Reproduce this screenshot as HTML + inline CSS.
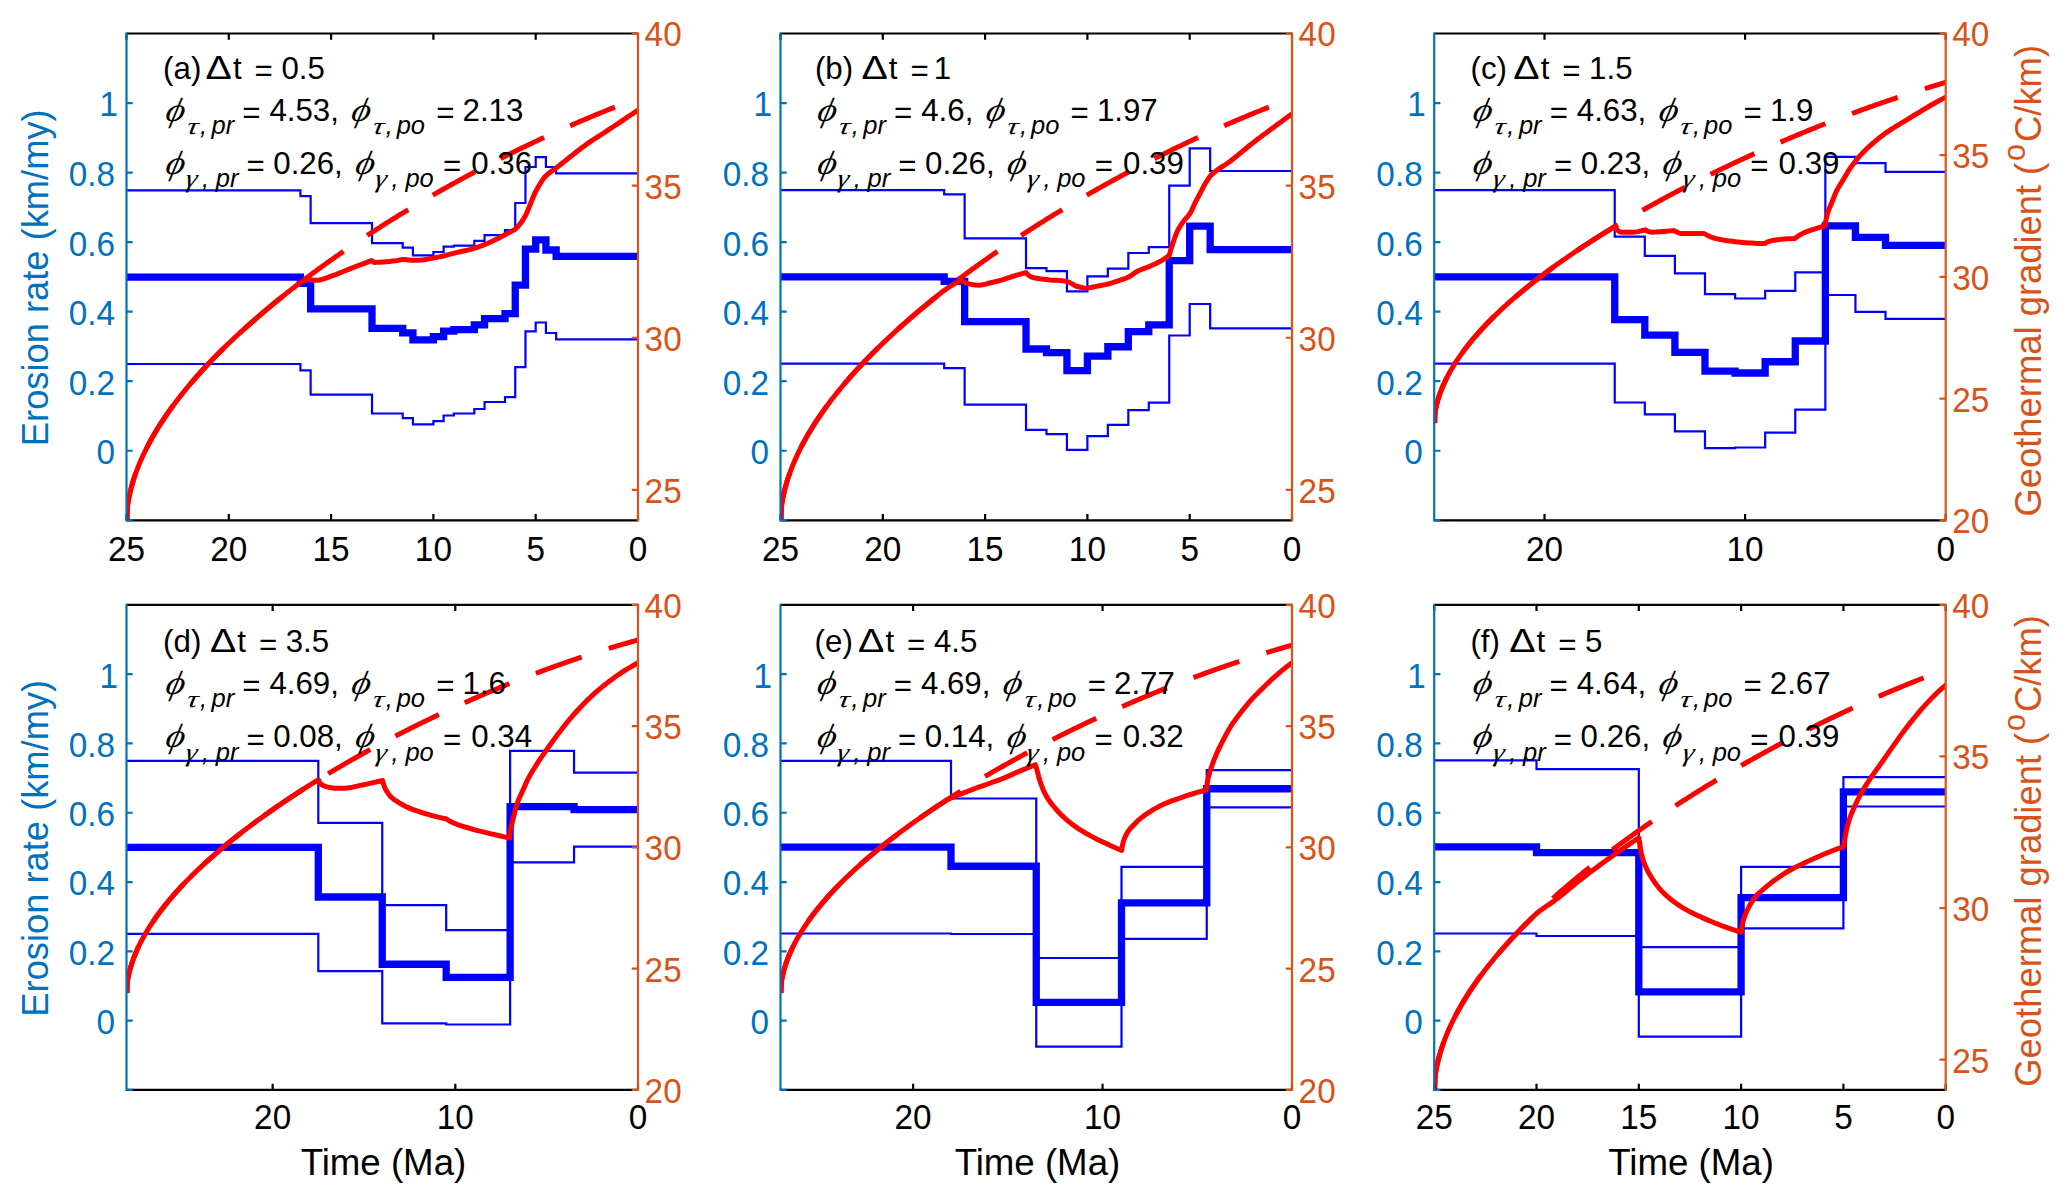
<!DOCTYPE html>
<html><head><meta charset="utf-8"><title>Erosion rate and geothermal gradient</title>
<style>html,body{margin:0;padding:0;background:#fff}svg{display:block}</style></head>
<body>
<svg width="2067" height="1204" viewBox="0 0 2067 1204" font-family="Liberation Sans, sans-serif">
<g id="panel-a">
<clipPath id="clip-a"><rect x="126.5" y="33.5" width="511.5" height="486.8"/></clipPath>
<g clip-path="url(#clip-a)">
<path d="M126.5 190.4 L300.41 190.4 L300.41 196.2 L310.64 196.2 L310.64 223.1 L372.02 223.1 L372.02 243.2 L402.71 243.2 L402.71 247.7 L412.94 247.7 L412.94 255.3 L433.4 255.3 L433.4 252 L443.63 252 L443.63 246.7 L453.86 246.7 L453.86 245.7 L474.32 245.7 L474.32 240.9 L484.55 240.9 L484.55 235.2 L505.01 235.2 L505.01 230.1 L515.24 230.1 L515.24 203 L525.47 203 L525.47 167 L535.7 167 L535.7 157.2 L545.93 157.2 L545.93 167 L556.16 167 L556.16 173.3 L638 173.3" fill="none" stroke="#0000ff" stroke-width="2.2" stroke-linejoin="miter"/>
<path d="M126.5 364 L300.41 364 L300.41 370.3 L310.64 370.3 L310.64 394.7 L372.02 394.7 L372.02 413.5 L402.71 413.5 L402.71 418.1 L412.94 418.1 L412.94 424.3 L433.4 424.3 L433.4 421.1 L443.63 421.1 L443.63 415.5 L453.86 415.5 L453.86 413.5 L474.32 413.5 L474.32 409 L484.55 409 L484.55 402 L505.01 402 L505.01 397.2 L515.24 397.2 L515.24 367.2 L525.47 367.2 L525.47 331.3 L535.7 331.3 L535.7 322.5 L545.93 322.5 L545.93 333 L556.16 333 L556.16 339.3 L638 339.3" fill="none" stroke="#0000ff" stroke-width="2.2" stroke-linejoin="miter"/>
<path d="M126.5 277.2 L300.41 277.2 L300.41 283.25 L310.64 283.25 L310.64 308.9 L372.02 308.9 L372.02 328.35 L402.71 328.35 L402.71 332.9 L412.94 332.9 L412.94 339.8 L433.4 339.8 L433.4 336.55 L443.63 336.55 L443.63 331.1 L453.86 331.1 L453.86 329.6 L474.32 329.6 L474.32 324.95 L484.55 324.95 L484.55 318.6 L505.01 318.6 L505.01 313.65 L515.24 313.65 L515.24 285.1 L525.47 285.1 L525.47 249.15 L535.7 249.15 L535.7 239.85 L545.93 239.85 L545.93 250 L556.16 250 L556.16 256.3 L638 256.3" fill="none" stroke="#0000ff" stroke-width="7.3" stroke-linejoin="miter"/>
<path d="M126.5 520.3 L127.78 504.33 L129.06 496.98 L130.35 491.18 L131.63 486.21 L132.91 481.77 L134.19 477.72 L135.47 473.96 L136.76 470.43 L138.04 467.1 L139.32 463.93 L140.6 460.9 L141.88 457.99 L143.17 455.19 L144.45 452.48 L145.73 449.86 L147.01 447.32 L148.29 444.84 L149.58 442.43 L150.86 440.08 L152.14 437.79 L153.42 435.54 L154.7 433.35 L155.98 431.19 L157.27 429.08 L158.55 427.01 L159.83 424.97 L161.11 422.97 L162.39 421 L163.68 419.07 L164.96 417.16 L166.24 415.28 L167.52 413.43 L168.8 411.6 L170.09 409.8 L171.37 408.02 L172.65 406.26 L173.93 404.53 L175.21 402.81 L176.5 401.12 L177.78 399.44 L179.06 397.79 L180.34 396.15 L181.62 394.53 L182.91 392.92 L184.19 391.33 L185.47 389.76 L186.75 388.2 L188.03 386.66 L189.32 385.13 L190.6 383.61 L191.88 382.11 L193.16 380.62 L194.44 379.14 L195.73 377.68 L197.01 376.22 L198.29 374.78 L199.57 373.35 L200.85 371.93 L202.14 370.52 L203.42 369.13 L204.7 367.74 L205.98 366.36 L207.26 364.99 L208.55 363.63 L209.83 362.28 L211.11 360.94 L212.39 359.61 L213.67 358.29 L214.95 356.97 L216.24 355.67 L217.52 354.37 L218.8 353.08 L220.08 351.8 L221.36 350.52 L222.65 349.25 L223.93 347.99 L225.21 346.74 L226.49 345.5 L227.77 344.26 L229.06 343.03 L230.34 341.8 L231.62 340.58 L232.9 339.37 L234.18 338.16 L235.47 336.96 L236.75 335.77 L238.03 334.58 L239.31 333.4 L240.59 332.22 L241.88 331.05 L243.16 329.89 L244.44 328.73 L245.72 327.58 L247 326.43 L248.29 325.29 L249.57 324.15 L250.85 323.02 L252.13 321.89 L253.41 320.77 L254.7 319.65 L255.98 318.54 L257.26 317.43 L258.54 316.33 L259.82 315.23 L261.11 314.13 L262.39 313.04 L263.67 311.96 L264.95 310.88 L266.23 309.8 L267.52 308.73 L268.8 307.66 L270.08 306.6 L271.36 305.54 L272.64 304.48 L273.92 303.43 L275.21 302.38 L276.49 301.34 L277.77 300.3 L279.05 299.27 L280.33 298.23 L281.62 297.21 L282.9 296.18 L284.18 295.16 L285.46 294.14 L286.74 293.13 L288.03 292.12 L289.31 291.11 L290.59 290.11 L291.87 289.11 L293.15 288.12 L294.44 287.12 L295.72 286.13 L297 285.15 L298.28 284.17 L299.56 283.19 L300.85 282.21 L302.13 281.24 L303.41 280.27 L304.69 279.3 L305.97 278.34 L307.26 277.38 L308.54 276.42 L309.82 275.46 L311.1 274.51 L312.38 273.56 L313.67 272.62 L314.95 271.67 L316.23 270.73 L317.51 269.8 L318.79 268.86 L320.08 267.93 L321.36 267 L322.64 266.08 L323.92 265.15 L325.2 264.23 L326.48 263.32 L327.77 262.4 L329.05 261.49 L330.33 260.58 L331.61 259.67 L332.89 258.77 L334.18 257.87 L335.46 256.97 L336.74 256.07 L338.02 255.18 L339.3 254.28 L340.59 253.39 L341.87 252.51 L343.15 251.62 L344.43 250.74 L345.71 249.86 L347 248.99 L348.28 248.11 L349.56 247.24 L350.84 246.37 L352.12 245.5 L353.41 244.64 L354.69 243.77 L355.97 242.91 L357.25 242.06 L358.53 241.2 L359.82 240.35 L361.1 239.49 L362.38 238.65 L363.66 237.8 L364.94 236.95 L366.23 236.11 L367.51 235.27 L368.79 234.43 L370.07 233.6 L371.35 232.76 L372.64 231.93 L373.92 231.1 L375.2 230.28 L376.48 229.45 L377.76 228.63 L379.05 227.81 L380.33 226.99 L381.61 226.17 L382.89 225.36 L384.17 224.55 L385.45 223.73 L386.74 222.93 L388.02 222.12 L389.3 221.32 L390.58 220.51 L391.86 219.71 L393.15 218.91 L394.43 218.12 L395.71 217.32 L396.99 216.53 L398.27 215.74 L399.56 214.95 L400.84 214.17 L402.12 213.38 L403.4 212.6 L404.68 211.82 L405.97 211.04 L407.25 210.26 L408.53 209.49 L409.81 208.72 L411.09 207.94 L412.38 207.18 L413.66 206.41 L414.94 205.64 L416.22 204.88 L417.5 204.12 L418.79 203.36 L420.07 202.6 L421.35 201.84 L422.63 201.09 L423.91 200.34 L425.2 199.59 L426.48 198.84 L427.76 198.09 L429.04 197.35 L430.32 196.6 L431.61 195.86 L432.89 195.12 L434.17 194.38 L435.45 193.65 L436.73 192.91 L438.02 192.18 L439.3 191.45 L440.58 190.72 L441.86 189.99 L443.14 189.27 L444.42 188.55 L445.71 187.82 L446.99 187.1 L448.27 186.38 L449.55 185.67 L450.83 184.95 L452.12 184.24 L453.4 183.53 L454.68 182.82 L455.96 182.11 L457.24 181.41 L458.53 180.7 L459.81 180 L461.09 179.3 L462.37 178.6 L463.65 177.9 L464.94 177.2 L466.22 176.51 L467.5 175.82 L468.78 175.13 L470.06 174.44 L471.35 173.75 L472.63 173.07 L473.91 172.38 L475.19 171.7 L476.47 171.02 L477.76 170.34 L479.04 169.66 L480.32 168.99 L481.6 168.31 L482.88 167.64 L484.17 166.97 L485.45 166.3 L486.73 165.63 L488.01 164.97 L489.29 164.3 L490.58 163.64 L491.86 162.98 L493.14 162.32 L494.42 161.67 L495.7 161.01 L496.98 160.36 L498.27 159.7 L499.55 159.05 L500.83 158.4 L502.11 157.76 L503.39 157.11 L504.68 156.47 L505.96 155.82 L507.24 155.18 L508.52 154.55 L509.8 153.91 L511.09 153.27 L512.37 152.64 L513.65 152 L514.93 151.37 L516.21 150.74 L517.5 150.12 L518.78 149.49 L520.06 148.87 L521.34 148.24 L522.62 147.62 L523.91 147 L525.19 146.38 L526.47 145.77 L527.75 145.15 L529.03 144.54 L530.32 143.93 L531.6 143.32 L532.88 142.71 L534.16 142.1 L535.44 141.5 L536.73 140.9 L538.01 140.29 L539.29 139.69 L540.57 139.1 L541.85 138.5 L543.14 137.9 L544.42 137.31 L545.7 136.72 L546.98 136.13 L548.26 135.54 L549.55 134.95 L550.83 134.37 L552.11 133.78 L553.39 133.2 L554.67 132.62 L555.95 132.04 L557.24 131.46 L558.52 130.89 L559.8 130.31 L561.08 129.74 L562.36 129.17 L563.65 128.6 L564.93 128.03 L566.21 127.46 L567.49 126.9 L568.77 126.34 L570.06 125.78 L571.34 125.22 L572.62 124.66 L573.9 124.1 L575.18 123.55 L576.47 122.99 L577.75 122.44 L579.03 121.89 L580.31 121.34 L581.59 120.8 L582.88 120.25 L584.16 119.71 L585.44 119.16 L586.72 118.62 L588 118.09 L589.29 117.55 L590.57 117.01 L591.85 116.48 L593.13 115.95 L594.41 115.42 L595.7 114.89 L596.98 114.36 L598.26 113.83 L599.54 113.31 L600.82 112.79 L602.11 112.26 L603.39 111.75 L604.67 111.23 L605.95 110.71 L607.23 110.2 L608.52 109.68 L609.8 109.17 L611.08 108.66 L612.36 108.16 L613.64 107.65 L614.92 107.14 L616.21 106.64 L617.49 106.14 L618.77 105.64 L620.05 105.14 L621.33 104.64 L622.62 104.15 L623.9 103.66 L625.18 103.16 L626.46 102.67 L627.74 102.19 L629.03 101.7 L630.31 101.21 L631.59 100.73 L632.87 100.25 L634.15 99.77 L635.44 99.29 L636.72 98.81 L638 98.34" fill="none" stroke="#ff0000" stroke-width="5" stroke-dasharray="48.5 28.5" stroke-linecap="butt"/>
<path d="M127.3 520.3 L127.31 517.25 L127.33 514.21 L127.36 511.18 L127.41 508.16 L127.57 505.15 L128.1 502.15 L128.64 499.16 L129.23 496.18 L129.87 493.22 L130.57 490.26 L131.33 487.33 L132.13 484.4 L132.99 481.49 L133.9 478.6 L134.86 475.72 L135.87 472.86 L136.92 470.01 L138.01 467.18 L139.14 464.37 L140.32 461.57 L141.53 458.79 L142.78 456.02 L144.07 453.27 L145.39 450.54 L146.75 447.83 L148.14 445.13 L149.56 442.46 L151.02 439.79 L152.5 437.15 L154.02 434.52 L155.56 431.9 L157.13 429.31 L158.72 426.73 L160.35 424.16 L161.99 421.62 L163.67 419.08 L165.36 416.57 L167.08 414.07 L168.82 411.58 L170.58 409.11 L172.36 406.66 L174.16 404.22 L175.99 401.79 L177.83 399.38 L179.69 396.98 L181.57 394.6 L183.46 392.23 L185.37 389.88 L187.3 387.53 L189.25 385.21 L191.21 382.89 L193.19 380.59 L195.18 378.3 L197.18 376.02 L199.2 373.76 L201.24 371.51 L203.28 369.27 L205.34 367.04 L207.42 364.83 L209.5 362.62 L211.6 360.43 L213.71 358.25 L215.83 356.08 L217.96 353.92 L220.1 351.77 L222.26 349.64 L224.42 347.51 L226.6 345.4 L228.78 343.29 L230.97 341.19 L233.18 339.11 L235.39 337.03 L237.61 334.97 L239.84 332.91 L242.08 330.87 L244.33 328.83 L246.59 326.8 L248.85 324.78 L251.13 322.77 L253.41 320.77 L255.7 318.78 L257.99 316.8 L260.3 314.82 L262.61 312.86 L264.93 310.9 L267.25 308.95 L269.58 307.01 L271.92 305.08 L274.27 303.15 L276.62 301.24 L278.98 299.33 L281.34 297.43 L283.71 295.53 L286.09 293.65 L288.47 291.77 L290.86 289.9 L293.26 288.04 L295.66 286.18 L298.03 284.25 L300.48 282.5 L303.15 281.19 L305.98 280.08 L309 279.3 L312.14 279.96 L315.25 280.28 L318.32 280.17 L321.38 279.61 L324.41 278.7 L327.43 277.6 L330.43 276.43 L333.42 275.33 L336.38 274.29 L339.32 273.17 L342.24 271.99 L345.15 270.78 L348.06 269.58 L350.99 268.4 L353.92 267.26 L356.86 266.13 L359.8 265.01 L362.75 263.9 L365.7 262.79 L368.65 261.69 L371.6 260.6 L374.24 262.38 L377.11 262.36 L380.12 262.22 L383.24 262.01 L386.42 261.73 L389.62 261.41 L392.82 261.05 L395.97 260.69 L399.05 260.15 L402.11 259.55 L405.2 259.6 L408.31 259.94 L411.43 260.25 L414.54 260.29 L417.67 260.2 L420.78 260.06 L423.87 259.81 L426.94 259.29 L430.01 258.62 L433.07 257.99 L436.14 257.43 L439.21 256.87 L442.26 256.24 L445.29 255.51 L448.3 254.7 L451.31 253.86 L454.32 253.07 L457.36 252.35 L460.41 251.69 L463.47 251.04 L466.52 250.37 L469.55 249.65 L472.55 248.84 L475.52 247.93 L478.48 246.91 L481.41 245.83 L484.31 244.69 L487.19 243.51 L490.04 242.23 L492.86 240.9 L495.67 239.54 L498.47 238.17 L501.25 236.76 L504.02 235.32 L506.78 233.86 L509.53 232.39 L512.27 230.91 L515 229.4 L517.21 227.22 L519.26 224.93 L521.13 222.5 L522.88 219.96 L524.5 217.32 L525.95 214.62 L527.22 211.82 L528.39 208.97 L529.55 206.1 L530.72 203.24 L531.85 200.37 L532.99 197.5 L534.19 194.67 L535.5 191.89 L536.94 189.17 L538.48 186.49 L540.08 183.87 L541.73 181.22 L543.46 178.64 L545.38 176.31 L547.58 174.25 L550.02 172.36 L552.57 170.56 L555.12 168.75 L557.56 166.86 L559.98 164.95 L562.39 163.03 L564.8 161.11 L567.21 159.2 L569.63 157.29 L572.05 155.39 L574.47 153.47 L576.89 151.56 L579.31 149.66 L581.76 147.79 L584.23 145.95 L586.73 144.16 L589.25 142.41 L591.81 140.69 L594.38 138.99 L596.96 137.32 L599.56 135.65 L602.16 133.99 L604.75 132.32 L607.34 130.65 L609.91 128.96 L612.48 127.25 L615.04 125.54 L617.6 123.82 L620.15 122.1 L622.71 120.38 L625.26 118.66 L627.81 116.93 L630.36 115.2 L632.91 113.47 L635.46 111.74 L638 110" fill="none" stroke="#ff0000" stroke-width="5" stroke-linejoin="round" stroke-linecap="butt"/>
</g>
<path d="M126.5 33.5 H638 M126.5 520.3 H638" stroke="#000" stroke-width="2.2" fill="none"/>
<path d="M126.5 520.3 v-6.2 M126.5 33.5 v6.2 M228.8 520.3 v-6.2 M228.8 33.5 v6.2 M331.1 520.3 v-6.2 M331.1 33.5 v6.2 M433.4 520.3 v-6.2 M433.4 33.5 v6.2 M535.7 520.3 v-6.2 M535.7 33.5 v6.2 M638 520.3 v-6.2 M638 33.5 v6.2 " stroke="#000" stroke-width="2.2" fill="none"/>
<path d="M126.5 32.4 V521.4 M126.5 520.3 h6.2 M126.5 450.76 h6.2 M126.5 381.21 h6.2 M126.5 311.67 h6.2 M126.5 242.13 h6.2 M126.5 172.59 h6.2 M126.5 103.04 h6.2 " stroke="#0072BD" stroke-width="2.2" fill="none"/>
<text x="0" y="0" font-size="33.33" fill="#0072BD" text-anchor="end" transform="translate(115 464.21) scale(1 1.055)">0</text>
<text x="0" y="0" font-size="33.33" fill="#0072BD" text-anchor="end" transform="translate(115 394.66) scale(1 1.055)">0.2</text>
<text x="0" y="0" font-size="33.33" fill="#0072BD" text-anchor="end" transform="translate(115 325.12) scale(1 1.055)">0.4</text>
<text x="0" y="0" font-size="33.33" fill="#0072BD" text-anchor="end" transform="translate(115 255.58) scale(1 1.055)">0.6</text>
<text x="0" y="0" font-size="33.33" fill="#0072BD" text-anchor="end" transform="translate(115 186.04) scale(1 1.055)">0.8</text>
<text x="0" y="0" font-size="33.33" fill="#0072BD" text-anchor="end" transform="translate(118 116.49) scale(1 1.055)">1</text>
<path d="M638 32.4 V521.4 M638 489.87 h-6.2 M638 337.75 h-6.2 M638 185.62 h-6.2 M638 33.5 h-6.2 " stroke="#D95319" stroke-width="2.2" fill="none"/>
<text x="0" y="0" font-size="33.33" fill="#D95319" text-anchor="start" transform="translate(644.6 502.82) scale(1 1.055)">25</text>
<text x="0" y="0" font-size="33.33" fill="#D95319" text-anchor="start" transform="translate(644.6 350.7) scale(1 1.055)">30</text>
<text x="0" y="0" font-size="33.33" fill="#D95319" text-anchor="start" transform="translate(644.6 198.58) scale(1 1.055)">35</text>
<text x="0" y="0" font-size="33.33" fill="#D95319" text-anchor="start" transform="translate(644.6 46.45) scale(1 1.055)">40</text>
<text x="0" y="0" font-size="33.33" fill="#000" text-anchor="middle" transform="translate(126.5 561.05) scale(1 1.055)">25</text>
<text x="0" y="0" font-size="33.33" fill="#000" text-anchor="middle" transform="translate(228.8 561.05) scale(1 1.055)">20</text>
<text x="0" y="0" font-size="33.33" fill="#000" text-anchor="middle" transform="translate(331.1 561.05) scale(1 1.055)">15</text>
<text x="0" y="0" font-size="33.33" fill="#000" text-anchor="middle" transform="translate(433.4 561.05) scale(1 1.055)">10</text>
<text x="0" y="0" font-size="33.33" fill="#000" text-anchor="middle" transform="translate(535.7 561.05) scale(1 1.055)">5</text>
<text x="0" y="0" font-size="33.33" fill="#000" text-anchor="middle" transform="translate(638 561.05) scale(1 1.055)">0</text>
<text x="48.4" y="277.75" font-size="36.3" fill="#0072BD" text-anchor="middle" transform="rotate(-90 48.4 277.75)">Erosion rate (km/my)</text>
<text x="163.1" y="78.7" font-size="31.25" fill="#000" text-anchor="start" >(a)</text>
<text x="0" y="0" font-size="31.25" transform="translate(205.6 78.7) scale(1.26 1.09)">Δ</text>
<text x="233" y="78.7" font-size="31.25" fill="#000" text-anchor="start" >t</text>
<text x="254.6" y="81.2" font-size="31.25" fill="#000" text-anchor="start" >=</text>
<text x="281.4" y="78.7" font-size="31.25" fill="#000" text-anchor="start" >0.5</text>
<text x="0" y="0" font-size="32.5" font-style="italic" font-family="Liberation Serif, serif" transform="translate(164.2 120.5) skewX(-13) scale(1.12 1.03)">ϕ</text>
<text x="0" y="0" font-size="24" font-style="italic" font-family="Liberation Serif, serif" transform="translate(185.9 134.1) skewX(-10) scale(1.3 1)">τ</text>
<text x="199.9" y="134.1" font-size="25.5" fill="#000" text-anchor="start" font-style="italic">,</text>
<text x="211.5" y="134.1" font-size="25.5" fill="#000" text-anchor="start" font-style="italic">pr</text>
<text x="242.3" y="123.1" font-size="31.25" fill="#000" text-anchor="start" >=</text>
<text x="269.4" y="120.5" font-size="31.25" fill="#000" text-anchor="start" >4.53,</text>
<text x="0" y="0" font-size="32.5" font-style="italic" font-family="Liberation Serif, serif" transform="translate(350 120.5) skewX(-13) scale(1.12 1.03)">ϕ</text>
<text x="0" y="0" font-size="24" font-style="italic" font-family="Liberation Serif, serif" transform="translate(371.7 134.1) skewX(-10) scale(1.3 1)">τ</text>
<text x="385.7" y="134.1" font-size="25.5" fill="#000" text-anchor="start" font-style="italic">,</text>
<text x="396.7" y="134.1" font-size="25.5" fill="#000" text-anchor="start" font-style="italic">po</text>
<text x="436.2" y="123.1" font-size="31.25" fill="#000" text-anchor="start" >=</text>
<text x="462.5" y="120.5" font-size="31.25" fill="#000" text-anchor="start" >2.13</text>
<text x="0" y="0" font-size="32.5" font-style="italic" font-family="Liberation Serif, serif" transform="translate(164.2 173.5) skewX(-13) scale(1.12 1.03)">ϕ</text>
<text x="0" y="0" font-size="26" font-style="italic" font-family="Liberation Serif, serif" transform="translate(184.4 187.1) skewX(-10) scale(1.12 1)">γ</text>
<text x="201.9" y="187.1" font-size="25.5" fill="#000" text-anchor="start" font-style="italic">,</text>
<text x="215.8" y="187.1" font-size="25.5" fill="#000" text-anchor="start" font-style="italic">pr</text>
<text x="246.5" y="176.1" font-size="31.25" fill="#000" text-anchor="start" >=</text>
<text x="273.3" y="173.5" font-size="31.25" fill="#000" text-anchor="start" >0.26,</text>
<text x="0" y="0" font-size="32.5" font-style="italic" font-family="Liberation Serif, serif" transform="translate(353.9 173.5) skewX(-13) scale(1.12 1.03)">ϕ</text>
<text x="0" y="0" font-size="26" font-style="italic" font-family="Liberation Serif, serif" transform="translate(374.1 187.1) skewX(-10) scale(1.12 1)">γ</text>
<text x="391.6" y="187.1" font-size="25.5" fill="#000" text-anchor="start" font-style="italic">,</text>
<text x="405.4" y="187.1" font-size="25.5" fill="#000" text-anchor="start" font-style="italic">po</text>
<text x="442.9" y="176.1" font-size="31.25" fill="#000" text-anchor="start" >=</text>
<text x="471.2" y="173.5" font-size="31.25" fill="#000" text-anchor="start" >0.36</text>
</g>
<g id="panel-b">
<clipPath id="clip-b"><rect x="780.5" y="33.5" width="511.5" height="486.8"/></clipPath>
<g clip-path="url(#clip-b)">
<path d="M780.5 190.1 L944.18 190.1 L944.18 194.4 L964.64 194.4 L964.64 238.4 L1026.02 238.4 L1026.02 268.2 L1046.48 268.2 L1046.48 271.2 L1066.94 271.2 L1066.94 291.4 L1087.4 291.4 L1087.4 276.3 L1107.86 276.3 L1107.86 268.7 L1128.32 268.7 L1128.32 253 L1148.78 253 L1148.78 247.2 L1169.24 247.2 L1169.24 185.6 L1189.7 185.6 L1189.7 148.4 L1210.16 148.4 L1210.16 171 L1292 171" fill="none" stroke="#0000ff" stroke-width="2.2" stroke-linejoin="miter"/>
<path d="M780.5 363.6 L944.18 363.6 L944.18 368.2 L964.64 368.2 L964.64 404.7 L1026.02 404.7 L1026.02 429.8 L1046.48 429.8 L1046.48 434.1 L1066.94 434.1 L1066.94 449.9 L1087.4 449.9 L1087.4 436.1 L1107.86 436.1 L1107.86 424.8 L1128.32 424.8 L1128.32 410.2 L1148.78 410.2 L1148.78 402.6 L1169.24 402.6 L1169.24 335.5 L1189.7 335.5 L1189.7 304 L1210.16 304 L1210.16 328.4 L1292 328.4" fill="none" stroke="#0000ff" stroke-width="2.2" stroke-linejoin="miter"/>
<path d="M780.5 276.85 L944.18 276.85 L944.18 281.3 L964.64 281.3 L964.64 321.55 L1026.02 321.55 L1026.02 349 L1046.48 349 L1046.48 352.65 L1066.94 352.65 L1066.94 370.65 L1087.4 370.65 L1087.4 356.2 L1107.86 356.2 L1107.86 346.75 L1128.32 346.75 L1128.32 331.6 L1148.78 331.6 L1148.78 324.9 L1169.24 324.9 L1169.24 260.55 L1189.7 260.55 L1189.7 226.2 L1210.16 226.2 L1210.16 249.7 L1292 249.7" fill="none" stroke="#0000ff" stroke-width="7.3" stroke-linejoin="miter"/>
<path d="M780.5 520.3 L781.78 504.33 L783.06 496.98 L784.35 491.18 L785.63 486.21 L786.91 481.77 L788.19 477.72 L789.47 473.96 L790.76 470.43 L792.04 467.1 L793.32 463.93 L794.6 460.9 L795.88 457.99 L797.17 455.19 L798.45 452.48 L799.73 449.86 L801.01 447.32 L802.29 444.84 L803.58 442.43 L804.86 440.08 L806.14 437.79 L807.42 435.54 L808.7 433.35 L809.98 431.19 L811.27 429.08 L812.55 427.01 L813.83 424.97 L815.11 422.97 L816.39 421 L817.68 419.07 L818.96 417.16 L820.24 415.28 L821.52 413.43 L822.8 411.6 L824.09 409.8 L825.37 408.02 L826.65 406.26 L827.93 404.53 L829.21 402.81 L830.5 401.12 L831.78 399.44 L833.06 397.79 L834.34 396.15 L835.62 394.53 L836.91 392.92 L838.19 391.33 L839.47 389.76 L840.75 388.2 L842.03 386.66 L843.32 385.13 L844.6 383.61 L845.88 382.11 L847.16 380.62 L848.44 379.14 L849.73 377.68 L851.01 376.22 L852.29 374.78 L853.57 373.35 L854.85 371.93 L856.14 370.52 L857.42 369.13 L858.7 367.74 L859.98 366.36 L861.26 364.99 L862.55 363.63 L863.83 362.28 L865.11 360.94 L866.39 359.61 L867.67 358.29 L868.95 356.97 L870.24 355.67 L871.52 354.37 L872.8 353.08 L874.08 351.8 L875.36 350.52 L876.65 349.25 L877.93 347.99 L879.21 346.74 L880.49 345.5 L881.77 344.26 L883.06 343.03 L884.34 341.8 L885.62 340.58 L886.9 339.37 L888.18 338.16 L889.47 336.96 L890.75 335.77 L892.03 334.58 L893.31 333.4 L894.59 332.22 L895.88 331.05 L897.16 329.89 L898.44 328.73 L899.72 327.58 L901 326.43 L902.29 325.29 L903.57 324.15 L904.85 323.02 L906.13 321.89 L907.41 320.77 L908.7 319.65 L909.98 318.54 L911.26 317.43 L912.54 316.33 L913.82 315.23 L915.11 314.13 L916.39 313.04 L917.67 311.96 L918.95 310.88 L920.23 309.8 L921.52 308.73 L922.8 307.66 L924.08 306.6 L925.36 305.54 L926.64 304.48 L927.92 303.43 L929.21 302.38 L930.49 301.34 L931.77 300.3 L933.05 299.27 L934.33 298.23 L935.62 297.21 L936.9 296.18 L938.18 295.16 L939.46 294.14 L940.74 293.13 L942.03 292.12 L943.31 291.11 L944.59 290.11 L945.87 289.11 L947.15 288.12 L948.44 287.12 L949.72 286.13 L951 285.15 L952.28 284.17 L953.56 283.19 L954.85 282.21 L956.13 281.24 L957.41 280.27 L958.69 279.3 L959.97 278.34 L961.26 277.38 L962.54 276.42 L963.82 275.46 L965.1 274.51 L966.38 273.56 L967.67 272.62 L968.95 271.67 L970.23 270.73 L971.51 269.8 L972.79 268.86 L974.08 267.93 L975.36 267 L976.64 266.08 L977.92 265.15 L979.2 264.23 L980.48 263.32 L981.77 262.4 L983.05 261.49 L984.33 260.58 L985.61 259.67 L986.89 258.77 L988.18 257.87 L989.46 256.97 L990.74 256.07 L992.02 255.18 L993.3 254.28 L994.59 253.39 L995.87 252.51 L997.15 251.62 L998.43 250.74 L999.71 249.86 L1001 248.99 L1002.28 248.11 L1003.56 247.24 L1004.84 246.37 L1006.12 245.5 L1007.41 244.64 L1008.69 243.77 L1009.97 242.91 L1011.25 242.06 L1012.53 241.2 L1013.82 240.35 L1015.1 239.49 L1016.38 238.65 L1017.66 237.8 L1018.94 236.95 L1020.23 236.11 L1021.51 235.27 L1022.79 234.43 L1024.07 233.6 L1025.35 232.76 L1026.64 231.93 L1027.92 231.1 L1029.2 230.28 L1030.48 229.45 L1031.76 228.63 L1033.05 227.81 L1034.33 226.99 L1035.61 226.17 L1036.89 225.36 L1038.17 224.55 L1039.45 223.73 L1040.74 222.93 L1042.02 222.12 L1043.3 221.32 L1044.58 220.51 L1045.86 219.71 L1047.15 218.91 L1048.43 218.12 L1049.71 217.32 L1050.99 216.53 L1052.27 215.74 L1053.56 214.95 L1054.84 214.17 L1056.12 213.38 L1057.4 212.6 L1058.68 211.82 L1059.97 211.04 L1061.25 210.26 L1062.53 209.49 L1063.81 208.72 L1065.09 207.94 L1066.38 207.18 L1067.66 206.41 L1068.94 205.64 L1070.22 204.88 L1071.5 204.12 L1072.79 203.36 L1074.07 202.6 L1075.35 201.84 L1076.63 201.09 L1077.91 200.34 L1079.2 199.59 L1080.48 198.84 L1081.76 198.09 L1083.04 197.35 L1084.32 196.6 L1085.61 195.86 L1086.89 195.12 L1088.17 194.38 L1089.45 193.65 L1090.73 192.91 L1092.02 192.18 L1093.3 191.45 L1094.58 190.72 L1095.86 189.99 L1097.14 189.27 L1098.42 188.55 L1099.71 187.82 L1100.99 187.1 L1102.27 186.38 L1103.55 185.67 L1104.83 184.95 L1106.12 184.24 L1107.4 183.53 L1108.68 182.82 L1109.96 182.11 L1111.24 181.41 L1112.53 180.7 L1113.81 180 L1115.09 179.3 L1116.37 178.6 L1117.65 177.9 L1118.94 177.2 L1120.22 176.51 L1121.5 175.82 L1122.78 175.13 L1124.06 174.44 L1125.35 173.75 L1126.63 173.07 L1127.91 172.38 L1129.19 171.7 L1130.47 171.02 L1131.76 170.34 L1133.04 169.66 L1134.32 168.99 L1135.6 168.31 L1136.88 167.64 L1138.17 166.97 L1139.45 166.3 L1140.73 165.63 L1142.01 164.97 L1143.29 164.3 L1144.58 163.64 L1145.86 162.98 L1147.14 162.32 L1148.42 161.67 L1149.7 161.01 L1150.98 160.36 L1152.27 159.7 L1153.55 159.05 L1154.83 158.4 L1156.11 157.76 L1157.39 157.11 L1158.68 156.47 L1159.96 155.82 L1161.24 155.18 L1162.52 154.55 L1163.8 153.91 L1165.09 153.27 L1166.37 152.64 L1167.65 152 L1168.93 151.37 L1170.21 150.74 L1171.5 150.12 L1172.78 149.49 L1174.06 148.87 L1175.34 148.24 L1176.62 147.62 L1177.91 147 L1179.19 146.38 L1180.47 145.77 L1181.75 145.15 L1183.03 144.54 L1184.32 143.93 L1185.6 143.32 L1186.88 142.71 L1188.16 142.1 L1189.44 141.5 L1190.73 140.9 L1192.01 140.29 L1193.29 139.69 L1194.57 139.1 L1195.85 138.5 L1197.14 137.9 L1198.42 137.31 L1199.7 136.72 L1200.98 136.13 L1202.26 135.54 L1203.55 134.95 L1204.83 134.37 L1206.11 133.78 L1207.39 133.2 L1208.67 132.62 L1209.95 132.04 L1211.24 131.46 L1212.52 130.89 L1213.8 130.31 L1215.08 129.74 L1216.36 129.17 L1217.65 128.6 L1218.93 128.03 L1220.21 127.46 L1221.49 126.9 L1222.77 126.34 L1224.06 125.78 L1225.34 125.22 L1226.62 124.66 L1227.9 124.1 L1229.18 123.55 L1230.47 122.99 L1231.75 122.44 L1233.03 121.89 L1234.31 121.34 L1235.59 120.8 L1236.88 120.25 L1238.16 119.71 L1239.44 119.16 L1240.72 118.62 L1242 118.09 L1243.29 117.55 L1244.57 117.01 L1245.85 116.48 L1247.13 115.95 L1248.41 115.42 L1249.7 114.89 L1250.98 114.36 L1252.26 113.83 L1253.54 113.31 L1254.82 112.79 L1256.11 112.26 L1257.39 111.75 L1258.67 111.23 L1259.95 110.71 L1261.23 110.2 L1262.52 109.68 L1263.8 109.17 L1265.08 108.66 L1266.36 108.16 L1267.64 107.65 L1268.92 107.14 L1270.21 106.64 L1271.49 106.14 L1272.77 105.64 L1274.05 105.14 L1275.33 104.64 L1276.62 104.15 L1277.9 103.66 L1279.18 103.16 L1280.46 102.67 L1281.74 102.19 L1283.03 101.7 L1284.31 101.21 L1285.59 100.73 L1286.87 100.25 L1288.15 99.77 L1289.44 99.29 L1290.72 98.81 L1292 98.34" fill="none" stroke="#ff0000" stroke-width="5" stroke-dasharray="48.5 28.5" stroke-linecap="butt"/>
<path d="M781.3 520.3 L781.31 517.24 L781.33 514.19 L781.36 511.15 L781.41 508.12 L781.58 505.1 L782.11 502.1 L782.65 499.1 L783.24 496.12 L783.89 493.14 L784.59 490.18 L785.35 487.24 L786.16 484.31 L787.03 481.39 L787.94 478.49 L788.9 475.6 L789.91 472.73 L790.97 469.88 L792.06 467.04 L793.2 464.22 L794.38 461.42 L795.6 458.63 L796.86 455.86 L798.15 453.1 L799.48 450.37 L800.84 447.65 L802.24 444.94 L803.67 442.26 L805.13 439.59 L806.62 436.94 L808.14 434.3 L809.69 431.68 L811.27 429.08 L812.87 426.5 L814.5 423.93 L816.15 421.37 L817.83 418.84 L819.53 416.32 L821.26 413.81 L823 411.32 L824.77 408.84 L826.56 406.38 L828.37 403.94 L830.2 401.51 L832.05 399.09 L833.92 396.69 L835.8 394.3 L837.71 391.93 L839.63 389.57 L841.56 387.22 L843.52 384.89 L845.48 382.57 L847.47 380.26 L849.47 377.97 L851.48 375.69 L853.51 373.42 L855.55 371.17 L857.6 368.92 L859.67 366.69 L861.75 364.47 L863.84 362.26 L865.95 360.07 L868.07 357.88 L870.2 355.71 L872.33 353.55 L874.49 351.4 L876.65 349.25 L878.82 347.12 L881 345 L883.19 342.89 L885.39 340.8 L887.61 338.71 L889.83 336.63 L892.06 334.56 L894.3 332.5 L896.54 330.45 L898.8 328.41 L901.06 326.38 L903.34 324.35 L905.62 322.34 L907.91 320.34 L910.2 318.34 L912.51 316.36 L914.82 314.38 L917.14 312.41 L919.46 310.45 L921.8 308.49 L924.14 306.55 L926.48 304.61 L928.84 302.69 L931.2 300.77 L933.56 298.86 L935.94 296.95 L938.31 295.06 L940.7 293.16 L943.07 291.26 L945.53 289.48 L948.03 287.77 L950.57 286.11 L953.15 284.5 L955.78 282.95 L958.46 281.48 L961.2 280.1 L963.97 281.92 L966.85 283.34 L969.85 284.14 L973 284.71 L976.23 285.09 L979.43 285.19 L982.58 284.81 L985.73 284.08 L988.87 283.27 L991.99 282.55 L995.11 281.79 L998.21 280.98 L1001.3 280.13 L1004.36 279.2 L1007.4 278.18 L1010.44 277.15 L1013.49 276.16 L1016.55 275.23 L1019.63 274.33 L1022.71 273.45 L1025.8 272.6 L1028.22 274.99 L1030.83 276.79 L1033.68 277.68 L1036.78 278.32 L1040.03 278.81 L1043.33 279.21 L1046.58 279.59 L1049.8 279.91 L1053.05 280.15 L1056.32 280.36 L1059.56 280.58 L1062.75 280.86 L1065.86 281.25 L1068.84 282.05 L1071.68 283.66 L1074.51 285.41 L1077.47 286.55 L1080.56 287.3 L1083.74 287.88 L1087 288.2 L1090.13 287.58 L1093.26 286.95 L1096.38 286.33 L1099.51 285.7 L1102.65 285.1 L1105.78 284.47 L1108.88 283.76 L1111.95 282.91 L1115.01 281.98 L1118.04 280.99 L1121.08 279.98 L1124.12 278.93 L1127.08 277.75 L1129.88 276.34 L1132.52 274.52 L1135.12 272.61 L1137.86 271.02 L1140.76 269.75 L1143.75 268.62 L1146.76 267.52 L1149.73 266.33 L1152.66 265.05 L1155.58 263.73 L1158.44 262.33 L1161.22 260.81 L1163.94 259.16 L1166.6 257.38 L1169.2 255.5 L1170.04 252.48 L1170.93 249.48 L1171.86 246.49 L1172.83 243.52 L1173.82 240.54 L1174.83 237.56 L1175.92 234.61 L1177.11 231.74 L1178.5 228.96 L1180.1 226.26 L1181.85 223.64 L1183.67 221.1 L1185.72 218.7 L1187.82 216.34 L1189.72 213.89 L1191.26 211.22 L1192.58 208.38 L1193.84 205.48 L1195.18 202.64 L1196.61 199.86 L1198.08 197.09 L1199.55 194.33 L1201 191.55 L1202.42 188.76 L1203.88 185.98 L1205.43 183.28 L1207.1 180.64 L1208.86 178.04 L1210.7 175.5 L1213.03 173.46 L1215.42 171.49 L1217.86 169.6 L1220.39 167.84 L1223 166.16 L1225.61 164.49 L1228.15 162.75 L1230.63 160.91 L1233.08 159.03 L1235.5 157.11 L1237.9 155.16 L1240.29 153.18 L1242.67 151.2 L1245.05 149.22 L1247.44 147.25 L1249.84 145.3 L1252.26 143.37 L1254.71 141.48 L1257.16 139.6 L1259.62 137.73 L1262.09 135.87 L1264.57 134.02 L1267.05 132.17 L1269.53 130.32 L1272.02 128.48 L1274.51 126.65 L1277 124.81 L1279.49 122.98 L1281.98 121.15 L1284.48 119.33 L1286.98 117.52 L1289.49 115.71 L1292 113.9" fill="none" stroke="#ff0000" stroke-width="5" stroke-linejoin="round" stroke-linecap="butt"/>
</g>
<path d="M780.5 33.5 H1292 M780.5 520.3 H1292" stroke="#000" stroke-width="2.2" fill="none"/>
<path d="M780.5 520.3 v-6.2 M780.5 33.5 v6.2 M882.8 520.3 v-6.2 M882.8 33.5 v6.2 M985.1 520.3 v-6.2 M985.1 33.5 v6.2 M1087.4 520.3 v-6.2 M1087.4 33.5 v6.2 M1189.7 520.3 v-6.2 M1189.7 33.5 v6.2 M1292 520.3 v-6.2 M1292 33.5 v6.2 " stroke="#000" stroke-width="2.2" fill="none"/>
<path d="M780.5 32.4 V521.4 M780.5 520.3 h6.2 M780.5 450.76 h6.2 M780.5 381.21 h6.2 M780.5 311.67 h6.2 M780.5 242.13 h6.2 M780.5 172.59 h6.2 M780.5 103.04 h6.2 " stroke="#0072BD" stroke-width="2.2" fill="none"/>
<text x="0" y="0" font-size="33.33" fill="#0072BD" text-anchor="end" transform="translate(769 464.21) scale(1 1.055)">0</text>
<text x="0" y="0" font-size="33.33" fill="#0072BD" text-anchor="end" transform="translate(769 394.66) scale(1 1.055)">0.2</text>
<text x="0" y="0" font-size="33.33" fill="#0072BD" text-anchor="end" transform="translate(769 325.12) scale(1 1.055)">0.4</text>
<text x="0" y="0" font-size="33.33" fill="#0072BD" text-anchor="end" transform="translate(769 255.58) scale(1 1.055)">0.6</text>
<text x="0" y="0" font-size="33.33" fill="#0072BD" text-anchor="end" transform="translate(769 186.04) scale(1 1.055)">0.8</text>
<text x="0" y="0" font-size="33.33" fill="#0072BD" text-anchor="end" transform="translate(772 116.49) scale(1 1.055)">1</text>
<path d="M1292 32.4 V521.4 M1292 489.87 h-6.2 M1292 337.75 h-6.2 M1292 185.62 h-6.2 M1292 33.5 h-6.2 " stroke="#D95319" stroke-width="2.2" fill="none"/>
<text x="0" y="0" font-size="33.33" fill="#D95319" text-anchor="start" transform="translate(1298.6 502.82) scale(1 1.055)">25</text>
<text x="0" y="0" font-size="33.33" fill="#D95319" text-anchor="start" transform="translate(1298.6 350.7) scale(1 1.055)">30</text>
<text x="0" y="0" font-size="33.33" fill="#D95319" text-anchor="start" transform="translate(1298.6 198.58) scale(1 1.055)">35</text>
<text x="0" y="0" font-size="33.33" fill="#D95319" text-anchor="start" transform="translate(1298.6 46.45) scale(1 1.055)">40</text>
<text x="0" y="0" font-size="33.33" fill="#000" text-anchor="middle" transform="translate(780.5 561.05) scale(1 1.055)">25</text>
<text x="0" y="0" font-size="33.33" fill="#000" text-anchor="middle" transform="translate(882.8 561.05) scale(1 1.055)">20</text>
<text x="0" y="0" font-size="33.33" fill="#000" text-anchor="middle" transform="translate(985.1 561.05) scale(1 1.055)">15</text>
<text x="0" y="0" font-size="33.33" fill="#000" text-anchor="middle" transform="translate(1087.4 561.05) scale(1 1.055)">10</text>
<text x="0" y="0" font-size="33.33" fill="#000" text-anchor="middle" transform="translate(1189.7 561.05) scale(1 1.055)">5</text>
<text x="0" y="0" font-size="33.33" fill="#000" text-anchor="middle" transform="translate(1292 561.05) scale(1 1.055)">0</text>
<text x="814.9" y="78.7" font-size="31.25" fill="#000" text-anchor="start" >(b)</text>
<text x="0" y="0" font-size="31.25" transform="translate(861.4 78.7) scale(1.26 1.09)">Δ</text>
<text x="888.8" y="78.7" font-size="31.25" fill="#000" text-anchor="start" >t</text>
<text x="910.4" y="81.2" font-size="31.25" fill="#000" text-anchor="start" >=</text>
<text x="933.8" y="78.7" font-size="31.25" fill="#000" text-anchor="start" >1</text>
<text x="0" y="0" font-size="32.5" font-style="italic" font-family="Liberation Serif, serif" transform="translate(816 120.5) skewX(-13) scale(1.12 1.03)">ϕ</text>
<text x="0" y="0" font-size="24" font-style="italic" font-family="Liberation Serif, serif" transform="translate(837.7 134.1) skewX(-10) scale(1.3 1)">τ</text>
<text x="851.7" y="134.1" font-size="25.5" fill="#000" text-anchor="start" font-style="italic">,</text>
<text x="863.3" y="134.1" font-size="25.5" fill="#000" text-anchor="start" font-style="italic">pr</text>
<text x="894.1" y="123.1" font-size="31.25" fill="#000" text-anchor="start" >=</text>
<text x="921.2" y="120.5" font-size="31.25" fill="#000" text-anchor="start" >4.6,</text>
<text x="0" y="0" font-size="32.5" font-style="italic" font-family="Liberation Serif, serif" transform="translate(984.42 120.5) skewX(-13) scale(1.12 1.03)">ϕ</text>
<text x="0" y="0" font-size="24" font-style="italic" font-family="Liberation Serif, serif" transform="translate(1006.12 134.1) skewX(-10) scale(1.3 1)">τ</text>
<text x="1020.12" y="134.1" font-size="25.5" fill="#000" text-anchor="start" font-style="italic">,</text>
<text x="1031.12" y="134.1" font-size="25.5" fill="#000" text-anchor="start" font-style="italic">po</text>
<text x="1070.62" y="123.1" font-size="31.25" fill="#000" text-anchor="start" >=</text>
<text x="1096.92" y="120.5" font-size="31.25" fill="#000" text-anchor="start" >1.97</text>
<text x="0" y="0" font-size="32.5" font-style="italic" font-family="Liberation Serif, serif" transform="translate(816 173.5) skewX(-13) scale(1.12 1.03)">ϕ</text>
<text x="0" y="0" font-size="26" font-style="italic" font-family="Liberation Serif, serif" transform="translate(836.2 187.1) skewX(-10) scale(1.12 1)">γ</text>
<text x="853.7" y="187.1" font-size="25.5" fill="#000" text-anchor="start" font-style="italic">,</text>
<text x="867.6" y="187.1" font-size="25.5" fill="#000" text-anchor="start" font-style="italic">pr</text>
<text x="898.3" y="176.1" font-size="31.25" fill="#000" text-anchor="start" >=</text>
<text x="925.1" y="173.5" font-size="31.25" fill="#000" text-anchor="start" >0.26,</text>
<text x="0" y="0" font-size="32.5" font-style="italic" font-family="Liberation Serif, serif" transform="translate(1005.7 173.5) skewX(-13) scale(1.12 1.03)">ϕ</text>
<text x="0" y="0" font-size="26" font-style="italic" font-family="Liberation Serif, serif" transform="translate(1025.9 187.1) skewX(-10) scale(1.12 1)">γ</text>
<text x="1043.4" y="187.1" font-size="25.5" fill="#000" text-anchor="start" font-style="italic">,</text>
<text x="1057.2" y="187.1" font-size="25.5" fill="#000" text-anchor="start" font-style="italic">po</text>
<text x="1094.7" y="176.1" font-size="31.25" fill="#000" text-anchor="start" >=</text>
<text x="1123" y="173.5" font-size="31.25" fill="#000" text-anchor="start" >0.39</text>
</g>
<g id="panel-c">
<clipPath id="clip-c"><rect x="1434.2" y="33.5" width="511.5" height="486.8"/></clipPath>
<g clip-path="url(#clip-c)">
<path d="M1434.2 190.1 L1614.73 190.1 L1614.73 236.6 L1644.82 236.6 L1644.82 255.9 L1674.91 255.9 L1674.91 273.3 L1704.99 273.3 L1704.99 294.2 L1735.08 294.2 L1735.08 298.5 L1765.17 298.5 L1765.17 290.9 L1795.26 290.9 L1795.26 272.3 L1825.35 272.3 L1825.35 156.9 L1855.44 156.9 L1855.44 163.1 L1885.52 163.1 L1885.52 171.9 L1945.7 171.9" fill="none" stroke="#0000ff" stroke-width="2.2" stroke-linejoin="miter"/>
<path d="M1434.2 363.7 L1614.73 363.7 L1614.73 402.5 L1644.82 402.5 L1644.82 414.3 L1674.91 414.3 L1674.91 431.4 L1704.99 431.4 L1704.99 448.2 L1735.08 448.2 L1735.08 447.5 L1765.17 447.5 L1765.17 432.6 L1795.26 432.6 L1795.26 409.7 L1825.35 409.7 L1825.35 295 L1855.44 295 L1855.44 311.8 L1885.52 311.8 L1885.52 318.9 L1945.7 318.9" fill="none" stroke="#0000ff" stroke-width="2.2" stroke-linejoin="miter"/>
<path d="M1434.2 276.9 L1614.73 276.9 L1614.73 319.55 L1644.82 319.55 L1644.82 335.1 L1674.91 335.1 L1674.91 352.35 L1704.99 352.35 L1704.99 371.2 L1735.08 371.2 L1735.08 373 L1765.17 373 L1765.17 361.75 L1795.26 361.75 L1795.26 341 L1825.35 341 L1825.35 225.95 L1855.44 225.95 L1855.44 237.45 L1885.52 237.45 L1885.52 245.4 L1945.7 245.4" fill="none" stroke="#0000ff" stroke-width="7.3" stroke-linejoin="miter"/>
<path d="M1434.2 422.94 L1435.48 410.03 L1436.76 404.08 L1438.05 399.39 L1439.33 395.37 L1440.61 391.78 L1441.89 388.5 L1443.17 385.46 L1444.46 382.61 L1445.74 379.92 L1447.02 377.35 L1448.3 374.9 L1449.58 372.55 L1450.87 370.28 L1452.15 368.09 L1453.43 365.97 L1454.71 363.91 L1455.99 361.91 L1457.28 359.96 L1458.56 358.06 L1459.84 356.21 L1461.12 354.39 L1462.4 352.61 L1463.68 350.87 L1464.97 349.17 L1466.25 347.49 L1467.53 345.84 L1468.81 344.22 L1470.09 342.63 L1471.38 341.07 L1472.66 339.52 L1473.94 338 L1475.22 336.5 L1476.5 335.03 L1477.79 333.57 L1479.07 332.13 L1480.35 330.71 L1481.63 329.31 L1482.91 327.92 L1484.2 326.55 L1485.48 325.19 L1486.76 323.85 L1488.04 322.53 L1489.32 321.22 L1490.61 319.92 L1491.89 318.63 L1493.17 317.36 L1494.45 316.1 L1495.73 314.85 L1497.02 313.61 L1498.3 312.39 L1499.58 311.17 L1500.86 309.97 L1502.14 308.77 L1503.43 307.59 L1504.71 306.41 L1505.99 305.24 L1507.27 304.09 L1508.55 302.94 L1509.84 301.8 L1511.12 300.67 L1512.4 299.55 L1513.68 298.43 L1514.96 297.32 L1516.25 296.23 L1517.53 295.13 L1518.81 294.05 L1520.09 292.97 L1521.37 291.9 L1522.65 290.84 L1523.94 289.78 L1525.22 288.73 L1526.5 287.69 L1527.78 286.65 L1529.06 285.62 L1530.35 284.59 L1531.63 283.57 L1532.91 282.56 L1534.19 281.55 L1535.47 280.55 L1536.76 279.55 L1538.04 278.56 L1539.32 277.58 L1540.6 276.6 L1541.88 275.62 L1543.17 274.65 L1544.45 273.68 L1545.73 272.72 L1547.01 271.77 L1548.29 270.82 L1549.58 269.87 L1550.86 268.93 L1552.14 267.99 L1553.42 267.06 L1554.7 266.13 L1555.99 265.2 L1557.27 264.28 L1558.55 263.37 L1559.83 262.46 L1561.11 261.55 L1562.4 260.64 L1563.68 259.74 L1564.96 258.85 L1566.24 257.95 L1567.52 257.07 L1568.81 256.18 L1570.09 255.3 L1571.37 254.42 L1572.65 253.55 L1573.93 252.68 L1575.22 251.81 L1576.5 250.94 L1577.78 250.08 L1579.06 249.23 L1580.34 248.37 L1581.62 247.52 L1582.91 246.68 L1584.19 245.83 L1585.47 244.99 L1586.75 244.15 L1588.03 243.32 L1589.32 242.49 L1590.6 241.66 L1591.88 240.83 L1593.16 240.01 L1594.44 239.19 L1595.73 238.37 L1597.01 237.56 L1598.29 236.75 L1599.57 235.94 L1600.85 235.13 L1602.14 234.33 L1603.42 233.53 L1604.7 232.73 L1605.98 231.94 L1607.26 231.15 L1608.55 230.36 L1609.83 229.57 L1611.11 228.78 L1612.39 228 L1613.67 227.22 L1614.96 226.45 L1616.24 225.67 L1617.52 224.9 L1618.8 224.13 L1620.08 223.36 L1621.37 222.6 L1622.65 221.84 L1623.93 221.08 L1625.21 220.32 L1626.49 219.56 L1627.78 218.81 L1629.06 218.06 L1630.34 217.31 L1631.62 216.56 L1632.9 215.82 L1634.18 215.08 L1635.47 214.34 L1636.75 213.6 L1638.03 212.86 L1639.31 212.13 L1640.59 211.4 L1641.88 210.67 L1643.16 209.94 L1644.44 209.22 L1645.72 208.49 L1647 207.77 L1648.29 207.05 L1649.57 206.34 L1650.85 205.62 L1652.13 204.91 L1653.41 204.2 L1654.7 203.49 L1655.98 202.78 L1657.26 202.08 L1658.54 201.37 L1659.82 200.67 L1661.11 199.97 L1662.39 199.28 L1663.67 198.58 L1664.95 197.89 L1666.23 197.2 L1667.52 196.51 L1668.8 195.82 L1670.08 195.13 L1671.36 194.45 L1672.64 193.77 L1673.93 193.08 L1675.21 192.41 L1676.49 191.73 L1677.77 191.05 L1679.05 190.38 L1680.34 189.71 L1681.62 189.04 L1682.9 188.37 L1684.18 187.7 L1685.46 187.04 L1686.75 186.38 L1688.03 185.71 L1689.31 185.05 L1690.59 184.4 L1691.87 183.74 L1693.15 183.09 L1694.44 182.43 L1695.72 181.78 L1697 181.13 L1698.28 180.48 L1699.56 179.84 L1700.85 179.19 L1702.13 178.55 L1703.41 177.91 L1704.69 177.27 L1705.97 176.63 L1707.26 175.99 L1708.54 175.36 L1709.82 174.72 L1711.1 174.09 L1712.38 173.46 L1713.67 172.83 L1714.95 172.21 L1716.23 171.58 L1717.51 170.96 L1718.79 170.33 L1720.08 169.71 L1721.36 169.09 L1722.64 168.48 L1723.92 167.86 L1725.2 167.25 L1726.49 166.63 L1727.77 166.02 L1729.05 165.41 L1730.33 164.8 L1731.61 164.2 L1732.9 163.59 L1734.18 162.99 L1735.46 162.38 L1736.74 161.78 L1738.02 161.18 L1739.31 160.59 L1740.59 159.99 L1741.87 159.39 L1743.15 158.8 L1744.43 158.21 L1745.72 157.62 L1747 157.03 L1748.28 156.44 L1749.56 155.85 L1750.84 155.27 L1752.12 154.69 L1753.41 154.1 L1754.69 153.52 L1755.97 152.94 L1757.25 152.37 L1758.53 151.79 L1759.82 151.22 L1761.1 150.64 L1762.38 150.07 L1763.66 149.5 L1764.94 148.93 L1766.23 148.36 L1767.51 147.8 L1768.79 147.23 L1770.07 146.67 L1771.35 146.11 L1772.64 145.55 L1773.92 144.99 L1775.2 144.43 L1776.48 143.87 L1777.76 143.32 L1779.05 142.77 L1780.33 142.21 L1781.61 141.66 L1782.89 141.11 L1784.17 140.57 L1785.46 140.02 L1786.74 139.47 L1788.02 138.93 L1789.3 138.39 L1790.58 137.85 L1791.87 137.31 L1793.15 136.77 L1794.43 136.23 L1795.71 135.7 L1796.99 135.16 L1798.28 134.63 L1799.56 134.1 L1800.84 133.57 L1802.12 133.04 L1803.4 132.51 L1804.68 131.99 L1805.97 131.46 L1807.25 130.94 L1808.53 130.42 L1809.81 129.9 L1811.09 129.38 L1812.38 128.86 L1813.66 128.34 L1814.94 127.83 L1816.22 127.32 L1817.5 126.8 L1818.79 126.29 L1820.07 125.78 L1821.35 125.27 L1822.63 124.77 L1823.91 124.26 L1825.2 123.76 L1826.48 123.26 L1827.76 122.75 L1829.04 122.25 L1830.32 121.76 L1831.61 121.26 L1832.89 120.76 L1834.17 120.27 L1835.45 119.77 L1836.73 119.28 L1838.02 118.79 L1839.3 118.3 L1840.58 117.81 L1841.86 117.33 L1843.14 116.84 L1844.43 116.36 L1845.71 115.88 L1846.99 115.39 L1848.27 114.91 L1849.55 114.44 L1850.84 113.96 L1852.12 113.48 L1853.4 113.01 L1854.68 112.54 L1855.96 112.06 L1857.25 111.59 L1858.53 111.12 L1859.81 110.66 L1861.09 110.19 L1862.37 109.72 L1863.65 109.26 L1864.94 108.8 L1866.22 108.34 L1867.5 107.88 L1868.78 107.42 L1870.06 106.96 L1871.35 106.51 L1872.63 106.05 L1873.91 105.6 L1875.19 105.15 L1876.47 104.7 L1877.76 104.25 L1879.04 103.8 L1880.32 103.35 L1881.6 102.91 L1882.88 102.47 L1884.17 102.02 L1885.45 101.58 L1886.73 101.14 L1888.01 100.7 L1889.29 100.27 L1890.58 99.83 L1891.86 99.4 L1893.14 98.96 L1894.42 98.53 L1895.7 98.1 L1896.99 97.67 L1898.27 97.25 L1899.55 96.82 L1900.83 96.4 L1902.11 95.97 L1903.4 95.55 L1904.68 95.13 L1905.96 94.71 L1907.24 94.29 L1908.52 93.88 L1909.81 93.46 L1911.09 93.05 L1912.37 92.63 L1913.65 92.22 L1914.93 91.81 L1916.22 91.4 L1917.5 91 L1918.78 90.59 L1920.06 90.19 L1921.34 89.78 L1922.62 89.38 L1923.91 88.98 L1925.19 88.58 L1926.47 88.18 L1927.75 87.79 L1929.03 87.39 L1930.32 87 L1931.6 86.61 L1932.88 86.22 L1934.16 85.83 L1935.44 85.44 L1936.73 85.05 L1938.01 84.67 L1939.29 84.28 L1940.57 83.9 L1941.85 83.52 L1943.14 83.14 L1944.42 82.76 L1945.7 82.38" fill="none" stroke="#ff0000" stroke-width="5" stroke-dasharray="48.5 28.5" stroke-linecap="butt"/>
<path d="M1435 422.94 L1435.01 419.85 L1435.03 416.79 L1435.08 413.74 L1435.27 410.7 L1435.93 407.69 L1436.61 404.71 L1437.37 401.74 L1438.22 398.79 L1439.16 395.88 L1440.17 392.98 L1441.25 390.12 L1442.4 387.28 L1443.61 384.46 L1444.89 381.68 L1446.23 378.92 L1447.63 376.19 L1449.07 373.49 L1450.56 370.81 L1452.1 368.17 L1453.69 365.55 L1455.32 362.95 L1457 360.38 L1458.71 357.84 L1460.46 355.33 L1462.24 352.84 L1464.06 350.37 L1465.91 347.93 L1467.79 345.51 L1469.7 343.12 L1471.64 340.74 L1473.61 338.39 L1475.6 336.07 L1477.62 333.76 L1479.66 331.47 L1481.72 329.21 L1483.81 326.96 L1485.91 324.74 L1488.04 322.53 L1490.19 320.34 L1492.35 318.17 L1494.53 316.02 L1496.73 313.89 L1498.95 311.77 L1501.18 309.67 L1503.42 307.59 L1505.69 305.52 L1507.96 303.47 L1510.25 301.43 L1512.55 299.41 L1514.87 297.41 L1517.2 295.41 L1519.54 293.44 L1521.89 291.47 L1524.25 289.52 L1526.63 287.58 L1529.01 285.66 L1531.41 283.75 L1533.81 281.85 L1536.23 279.97 L1538.65 278.09 L1541.08 276.23 L1543.53 274.38 L1545.98 272.54 L1548.44 270.71 L1550.9 268.89 L1553.38 267.09 L1555.86 265.29 L1558.35 263.51 L1560.85 261.73 L1563.35 259.97 L1565.87 258.21 L1568.39 256.47 L1570.91 254.73 L1573.44 253.01 L1575.98 251.29 L1578.53 249.59 L1581.08 247.89 L1583.63 246.2 L1586.19 244.52 L1588.76 242.85 L1591.34 241.18 L1593.91 239.53 L1596.5 237.88 L1599.09 236.24 L1601.68 234.61 L1604.28 232.99 L1606.89 231.38 L1609.5 229.77 L1612.11 228.17 L1614.73 226.58 L1617.22 229.95 L1620.06 232.1 L1623.29 232.3 L1626.99 232.3 L1630.76 232.3 L1634.38 232.14 L1637.97 231.6 L1641.54 230.78 L1645.1 229.8 L1648.47 231.63 L1651.96 232.3 L1655.59 232.09 L1659.3 231.74 L1662.99 231.43 L1666.66 231.15 L1670.33 230.87 L1674 230.6 L1677.14 232.27 L1680.33 233.47 L1683.61 233.6 L1686.92 233.6 L1690.28 233.6 L1693.68 233.6 L1697.13 233.6 L1700.64 233.6 L1704.2 233.6 L1707.11 235.16 L1710.06 236.58 L1713.07 237.74 L1716.15 238.57 L1719.29 239.28 L1722.48 239.89 L1725.71 240.43 L1728.95 240.91 L1732.2 241.33 L1735.42 241.72 L1738.65 242.07 L1741.89 242.39 L1745.13 242.67 L1748.37 242.9 L1751.61 243.09 L1754.86 243.26 L1758.1 243.4 L1761.35 243.52 L1764.6 243.6 L1767.63 241.82 L1770.79 240.87 L1774.03 240.29 L1777.32 239.79 L1780.67 239.37 L1784.09 239.04 L1787.58 238.8 L1791.14 238.65 L1794.8 238.6 L1797.75 236.35 L1800.83 234.38 L1804.07 232.77 L1807.47 231.4 L1810.95 230.18 L1814.43 229.03 L1817.92 227.94 L1821.45 226.93 L1825 226 L1825.42 222.94 L1825.97 219.92 L1826.63 216.93 L1827.37 213.98 L1828.25 211.08 L1829.35 208.22 L1830.56 205.4 L1831.8 202.58 L1832.96 199.74 L1834.07 196.87 L1835.2 194.02 L1836.42 191.22 L1837.79 188.51 L1839.37 185.89 L1841.03 183.3 L1842.66 180.7 L1844.21 178.06 L1845.73 175.39 L1847.28 172.75 L1848.89 170.16 L1850.61 167.63 L1852.4 165.14 L1854.25 162.69 L1856.14 160.3 L1858.1 157.94 L1860.11 155.63 L1862.18 153.37 L1864.3 151.17 L1866.48 149.02 L1868.72 146.92 L1871 144.88 L1873.31 142.87 L1875.65 140.89 L1878.02 138.94 L1880.42 137.03 L1882.85 135.16 L1885.31 133.35 L1887.8 131.6 L1890.34 129.91 L1892.91 128.25 L1895.51 126.64 L1898.13 125.04 L1900.77 123.46 L1903.4 121.88 L1906.03 120.3 L1908.64 118.71 L1911.25 117.1 L1913.86 115.5 L1916.46 113.89 L1919.08 112.29 L1921.69 110.7 L1924.32 109.13 L1926.95 107.56 L1929.59 106.01 L1932.24 104.49 L1934.91 102.99 L1937.59 101.51 L1940.28 100.06 L1942.99 98.62 L1945.7 97.2" fill="none" stroke="#ff0000" stroke-width="5" stroke-linejoin="round" stroke-linecap="butt"/>
</g>
<path d="M1434.2 33.5 H1945.7 M1434.2 520.3 H1945.7" stroke="#000" stroke-width="2.2" fill="none"/>
<path d="M1544.52 520.3 v-6.2 M1544.52 33.5 v6.2 M1745.11 520.3 v-6.2 M1745.11 33.5 v6.2 M1945.7 520.3 v-6.2 M1945.7 33.5 v6.2 " stroke="#000" stroke-width="2.2" fill="none"/>
<path d="M1434.2 32.4 V521.4 M1434.2 520.3 h6.2 M1434.2 450.76 h6.2 M1434.2 381.21 h6.2 M1434.2 311.67 h6.2 M1434.2 242.13 h6.2 M1434.2 172.59 h6.2 M1434.2 103.04 h6.2 " stroke="#0072BD" stroke-width="2.2" fill="none"/>
<text x="0" y="0" font-size="33.33" fill="#0072BD" text-anchor="end" transform="translate(1422.7 464.21) scale(1 1.055)">0</text>
<text x="0" y="0" font-size="33.33" fill="#0072BD" text-anchor="end" transform="translate(1422.7 394.66) scale(1 1.055)">0.2</text>
<text x="0" y="0" font-size="33.33" fill="#0072BD" text-anchor="end" transform="translate(1422.7 325.12) scale(1 1.055)">0.4</text>
<text x="0" y="0" font-size="33.33" fill="#0072BD" text-anchor="end" transform="translate(1422.7 255.58) scale(1 1.055)">0.6</text>
<text x="0" y="0" font-size="33.33" fill="#0072BD" text-anchor="end" transform="translate(1422.7 186.04) scale(1 1.055)">0.8</text>
<text x="0" y="0" font-size="33.33" fill="#0072BD" text-anchor="end" transform="translate(1425.7 116.49) scale(1 1.055)">1</text>
<path d="M1945.7 32.4 V521.4 M1945.7 520.3 h-6.2 M1945.7 398.6 h-6.2 M1945.7 276.9 h-6.2 M1945.7 155.2 h-6.2 M1945.7 33.5 h-6.2 " stroke="#D95319" stroke-width="2.2" fill="none"/>
<text x="0" y="0" font-size="33.33" fill="#D95319" text-anchor="start" transform="translate(1952.3 533.25) scale(1 1.055)">20</text>
<text x="0" y="0" font-size="33.33" fill="#D95319" text-anchor="start" transform="translate(1952.3 411.55) scale(1 1.055)">25</text>
<text x="0" y="0" font-size="33.33" fill="#D95319" text-anchor="start" transform="translate(1952.3 289.85) scale(1 1.055)">30</text>
<text x="0" y="0" font-size="33.33" fill="#D95319" text-anchor="start" transform="translate(1952.3 168.15) scale(1 1.055)">35</text>
<text x="0" y="0" font-size="33.33" fill="#D95319" text-anchor="start" transform="translate(1952.3 46.45) scale(1 1.055)">40</text>
<text x="0" y="0" font-size="33.33" fill="#000" text-anchor="middle" transform="translate(1544.52 561.05) scale(1 1.055)">20</text>
<text x="0" y="0" font-size="33.33" fill="#000" text-anchor="middle" transform="translate(1745.11 561.05) scale(1 1.055)">10</text>
<text x="0" y="0" font-size="33.33" fill="#000" text-anchor="middle" transform="translate(1945.7 561.05) scale(1 1.055)">0</text>
<text x="0" y="0" font-size="36.4" fill="#D95319" transform="translate(2041.3 516.6) rotate(-90)">Geothermal gradient</text>
<text x="0" y="0" font-size="36.4" fill="#D95319" transform="translate(2041.3 175) rotate(-90)">(</text>
<text x="0" y="0" font-size="30.5" fill="#D95319" transform="translate(2024.9 161) rotate(-90)">o</text>
<text x="0" y="0" font-size="36.4" fill="#D95319" transform="translate(2041.3 142) rotate(-90)">C/km)</text>
<text x="1470.5" y="78.7" font-size="31.25" fill="#000" text-anchor="start" >(c)</text>
<text x="0" y="0" font-size="31.25" transform="translate(1513.3 78.7) scale(1.26 1.09)">Δ</text>
<text x="1540.7" y="78.7" font-size="31.25" fill="#000" text-anchor="start" >t</text>
<text x="1562.3" y="81.2" font-size="31.25" fill="#000" text-anchor="start" >=</text>
<text x="1589.1" y="78.7" font-size="31.25" fill="#000" text-anchor="start" >1.5</text>
<text x="0" y="0" font-size="32.5" font-style="italic" font-family="Liberation Serif, serif" transform="translate(1471.6 120.5) skewX(-13) scale(1.12 1.03)">ϕ</text>
<text x="0" y="0" font-size="24" font-style="italic" font-family="Liberation Serif, serif" transform="translate(1493.3 134.1) skewX(-10) scale(1.3 1)">τ</text>
<text x="1507.3" y="134.1" font-size="25.5" fill="#000" text-anchor="start" font-style="italic">,</text>
<text x="1518.9" y="134.1" font-size="25.5" fill="#000" text-anchor="start" font-style="italic">pr</text>
<text x="1549.7" y="123.1" font-size="31.25" fill="#000" text-anchor="start" >=</text>
<text x="1576.8" y="120.5" font-size="31.25" fill="#000" text-anchor="start" >4.63,</text>
<text x="0" y="0" font-size="32.5" font-style="italic" font-family="Liberation Serif, serif" transform="translate(1657.4 120.5) skewX(-13) scale(1.12 1.03)">ϕ</text>
<text x="0" y="0" font-size="24" font-style="italic" font-family="Liberation Serif, serif" transform="translate(1679.1 134.1) skewX(-10) scale(1.3 1)">τ</text>
<text x="1693.1" y="134.1" font-size="25.5" fill="#000" text-anchor="start" font-style="italic">,</text>
<text x="1704.1" y="134.1" font-size="25.5" fill="#000" text-anchor="start" font-style="italic">po</text>
<text x="1743.6" y="123.1" font-size="31.25" fill="#000" text-anchor="start" >=</text>
<text x="1769.9" y="120.5" font-size="31.25" fill="#000" text-anchor="start" >1.9</text>
<text x="0" y="0" font-size="32.5" font-style="italic" font-family="Liberation Serif, serif" transform="translate(1471.6 173.5) skewX(-13) scale(1.12 1.03)">ϕ</text>
<text x="0" y="0" font-size="26" font-style="italic" font-family="Liberation Serif, serif" transform="translate(1491.8 187.1) skewX(-10) scale(1.12 1)">γ</text>
<text x="1509.3" y="187.1" font-size="25.5" fill="#000" text-anchor="start" font-style="italic">,</text>
<text x="1523.2" y="187.1" font-size="25.5" fill="#000" text-anchor="start" font-style="italic">pr</text>
<text x="1553.9" y="176.1" font-size="31.25" fill="#000" text-anchor="start" >=</text>
<text x="1580.7" y="173.5" font-size="31.25" fill="#000" text-anchor="start" >0.23,</text>
<text x="0" y="0" font-size="32.5" font-style="italic" font-family="Liberation Serif, serif" transform="translate(1661.3 173.5) skewX(-13) scale(1.12 1.03)">ϕ</text>
<text x="0" y="0" font-size="26" font-style="italic" font-family="Liberation Serif, serif" transform="translate(1681.5 187.1) skewX(-10) scale(1.12 1)">γ</text>
<text x="1699" y="187.1" font-size="25.5" fill="#000" text-anchor="start" font-style="italic">,</text>
<text x="1712.8" y="187.1" font-size="25.5" fill="#000" text-anchor="start" font-style="italic">po</text>
<text x="1750.3" y="176.1" font-size="31.25" fill="#000" text-anchor="start" >=</text>
<text x="1778.6" y="173.5" font-size="31.25" fill="#000" text-anchor="start" >0.39</text>
</g>
<g id="panel-d">
<clipPath id="clip-d"><rect x="126.5" y="604.9" width="511.5" height="485"/></clipPath>
<g clip-path="url(#clip-d)">
<path d="M126.5 760.9 L318.31 760.9 L318.31 822.8 L382.25 822.8 L382.25 905.2 L446.19 905.2 L446.19 930.2 L510.12 930.2 L510.12 750.8 L574.06 750.8 L574.06 772.7 L638 772.7" fill="none" stroke="#0000ff" stroke-width="2.2" stroke-linejoin="miter"/>
<path d="M126.5 933.8 L318.31 933.8 L318.31 971.2 L382.25 971.2 L382.25 1023.3 L446.19 1023.3 L446.19 1024.5 L510.12 1024.5 L510.12 862.3 L574.06 862.3 L574.06 846.7 L638 846.7" fill="none" stroke="#0000ff" stroke-width="2.2" stroke-linejoin="miter"/>
<path d="M126.5 847.35 L318.31 847.35 L318.31 897 L382.25 897 L382.25 964.25 L446.19 964.25 L446.19 977.35 L510.12 977.35 L510.12 806.55 L574.06 806.55 L574.06 809.7 L638 809.7" fill="none" stroke="#0000ff" stroke-width="7.3" stroke-linejoin="miter"/>
<path d="M126.5 992.9 L127.78 979.36 L129.06 973.12 L130.35 968.2 L131.63 963.99 L132.91 960.22 L134.19 956.78 L135.47 953.59 L136.76 950.6 L138.04 947.77 L139.32 945.09 L140.6 942.51 L141.88 940.05 L143.17 937.67 L144.45 935.37 L145.73 933.15 L147.01 930.99 L148.29 928.89 L149.58 926.85 L150.86 924.85 L152.14 922.9 L153.42 921 L154.7 919.13 L155.98 917.31 L157.27 915.52 L158.55 913.76 L159.83 912.03 L161.11 910.33 L162.39 908.66 L163.68 907.02 L164.96 905.4 L166.24 903.8 L167.52 902.23 L168.8 900.68 L170.09 899.15 L171.37 897.64 L172.65 896.15 L173.93 894.68 L175.21 893.22 L176.5 891.78 L177.78 890.36 L179.06 888.95 L180.34 887.56 L181.62 886.18 L182.91 884.82 L184.19 883.47 L185.47 882.14 L186.75 880.81 L188.03 879.5 L189.32 878.2 L190.6 876.92 L191.88 875.64 L193.16 874.37 L194.44 873.12 L195.73 871.88 L197.01 870.64 L198.29 869.42 L199.57 868.2 L200.85 867 L202.14 865.8 L203.42 864.61 L204.7 863.43 L205.98 862.26 L207.26 861.1 L208.55 859.95 L209.83 858.8 L211.11 857.66 L212.39 856.53 L213.67 855.41 L214.95 854.29 L216.24 853.18 L217.52 852.08 L218.8 850.98 L220.08 849.89 L221.36 848.81 L222.65 847.73 L223.93 846.66 L225.21 845.59 L226.49 844.54 L227.77 843.48 L229.06 842.44 L230.34 841.39 L231.62 840.36 L232.9 839.33 L234.18 838.3 L235.47 837.28 L236.75 836.27 L238.03 835.26 L239.31 834.26 L240.59 833.26 L241.88 832.26 L243.16 831.27 L244.44 830.29 L245.72 829.31 L247 828.33 L248.29 827.36 L249.57 826.39 L250.85 825.43 L252.13 824.47 L253.41 823.52 L254.7 822.57 L255.98 821.63 L257.26 820.68 L258.54 819.75 L259.82 818.81 L261.11 817.88 L262.39 816.96 L263.67 816.04 L264.95 815.12 L266.23 814.2 L267.52 813.29 L268.8 812.39 L270.08 811.48 L271.36 810.58 L272.64 809.69 L273.92 808.79 L275.21 807.9 L276.49 807.02 L277.77 806.13 L279.05 805.25 L280.33 804.38 L281.62 803.5 L282.9 802.64 L284.18 801.77 L285.46 800.9 L286.74 800.04 L288.03 799.19 L289.31 798.33 L290.59 797.48 L291.87 796.63 L293.15 795.79 L294.44 794.94 L295.72 794.11 L297 793.27 L298.28 792.43 L299.56 791.6 L300.85 790.78 L302.13 789.95 L303.41 789.13 L304.69 788.31 L305.97 787.49 L307.26 786.67 L308.54 785.86 L309.82 785.05 L311.1 784.25 L312.38 783.44 L313.67 782.64 L314.95 781.84 L316.23 781.04 L317.51 780.25 L318.79 779.46 L320.08 778.67 L321.36 777.88 L322.64 777.1 L323.92 776.32 L325.2 775.54 L326.48 774.76 L327.77 773.98 L329.05 773.21 L330.33 772.44 L331.61 771.67 L332.89 770.91 L334.18 770.15 L335.46 769.38 L336.74 768.63 L338.02 767.87 L339.3 767.12 L340.59 766.36 L341.87 765.61 L343.15 764.87 L344.43 764.12 L345.71 763.38 L347 762.64 L348.28 761.9 L349.56 761.16 L350.84 760.43 L352.12 759.69 L353.41 758.96 L354.69 758.23 L355.97 757.51 L357.25 756.78 L358.53 756.06 L359.82 755.34 L361.1 754.62 L362.38 753.91 L363.66 753.19 L364.94 752.48 L366.23 751.77 L367.51 751.06 L368.79 750.36 L370.07 749.65 L371.35 748.95 L372.64 748.25 L373.92 747.55 L375.2 746.85 L376.48 746.16 L377.76 745.47 L379.05 744.78 L380.33 744.09 L381.61 743.4 L382.89 742.71 L384.17 742.03 L385.45 741.35 L386.74 740.67 L388.02 739.99 L389.3 739.32 L390.58 738.64 L391.86 737.97 L393.15 737.3 L394.43 736.63 L395.71 735.97 L396.99 735.3 L398.27 734.64 L399.56 733.98 L400.84 733.32 L402.12 732.66 L403.4 732.01 L404.68 731.35 L405.97 730.7 L407.25 730.05 L408.53 729.4 L409.81 728.75 L411.09 728.11 L412.38 727.47 L413.66 726.82 L414.94 726.18 L416.22 725.55 L417.5 724.91 L418.79 724.28 L420.07 723.64 L421.35 723.01 L422.63 722.38 L423.91 721.75 L425.2 721.13 L426.48 720.5 L427.76 719.88 L429.04 719.26 L430.32 718.64 L431.61 718.02 L432.89 717.41 L434.17 716.8 L435.45 716.18 L436.73 715.57 L438.02 714.96 L439.3 714.36 L440.58 713.75 L441.86 713.15 L443.14 712.54 L444.42 711.94 L445.71 711.35 L446.99 710.75 L448.27 710.15 L449.55 709.56 L450.83 708.97 L452.12 708.38 L453.4 707.79 L454.68 707.2 L455.96 706.61 L457.24 706.03 L458.53 705.45 L459.81 704.87 L461.09 704.29 L462.37 703.71 L463.65 703.14 L464.94 702.56 L466.22 701.99 L467.5 701.42 L468.78 700.85 L470.06 700.28 L471.35 699.72 L472.63 699.15 L473.91 698.59 L475.19 698.03 L476.47 697.47 L477.76 696.91 L479.04 696.36 L480.32 695.8 L481.6 695.25 L482.88 694.7 L484.17 694.15 L485.45 693.6 L486.73 693.05 L488.01 692.51 L489.29 691.97 L490.58 691.42 L491.86 690.88 L493.14 690.35 L494.42 689.81 L495.7 689.27 L496.98 688.74 L498.27 688.21 L499.55 687.68 L500.83 687.15 L502.11 686.62 L503.39 686.1 L504.68 685.57 L505.96 685.05 L507.24 684.53 L508.52 684.01 L509.8 683.5 L511.09 682.98 L512.37 682.47 L513.65 681.95 L514.93 681.44 L516.21 680.93 L517.5 680.43 L518.78 679.92 L520.06 679.42 L521.34 678.91 L522.62 678.41 L523.91 677.91 L525.19 677.41 L526.47 676.92 L527.75 676.42 L529.03 675.93 L530.32 675.44 L531.6 674.95 L532.88 674.46 L534.16 673.97 L535.44 673.49 L536.73 673.01 L538.01 672.52 L539.29 672.04 L540.57 671.57 L541.85 671.09 L543.14 670.61 L544.42 670.14 L545.7 669.67 L546.98 669.2 L548.26 668.73 L549.55 668.26 L550.83 667.8 L552.11 667.33 L553.39 666.87 L554.67 666.41 L555.95 665.95 L557.24 665.49 L558.52 665.04 L559.8 664.58 L561.08 664.13 L562.36 663.68 L563.65 663.23 L564.93 662.78 L566.21 662.33 L567.49 661.89 L568.77 661.45 L570.06 661.01 L571.34 660.57 L572.62 660.13 L573.9 659.69 L575.18 659.26 L576.47 658.82 L577.75 658.39 L579.03 657.96 L580.31 657.54 L581.59 657.11 L582.88 656.68 L584.16 656.26 L585.44 655.84 L586.72 655.42 L588 655 L589.29 654.58 L590.57 654.17 L591.85 653.76 L593.13 653.34 L594.41 652.93 L595.7 652.53 L596.98 652.12 L598.26 651.71 L599.54 651.31 L600.82 650.91 L602.11 650.51 L603.39 650.11 L604.67 649.71 L605.95 649.32 L607.23 648.93 L608.52 648.53 L609.8 648.14 L611.08 647.76 L612.36 647.37 L613.64 646.98 L614.92 646.6 L616.21 646.22 L617.49 645.84 L618.77 645.46 L620.05 645.08 L621.33 644.71 L622.62 644.34 L623.9 643.96 L625.18 643.59 L626.46 643.23 L627.74 642.86 L629.03 642.49 L630.31 642.13 L631.59 641.77 L632.87 641.41 L634.15 641.05 L635.44 640.7 L636.72 640.34 L638 639.99" fill="none" stroke="#ff0000" stroke-width="5" stroke-dasharray="48.5 28.5" stroke-linecap="butt"/>
<path d="M127.3 992.9 L127.3 989.83 L127.31 986.77 L127.32 983.72 L127.46 980.69 L128.08 977.69 L128.7 974.69 L129.4 971.72 L130.19 968.77 L131.05 965.84 L131.98 962.93 L132.98 960.04 L134.04 957.17 L135.17 954.33 L136.35 951.52 L137.6 948.73 L138.9 945.97 L140.25 943.22 L141.65 940.5 L143.08 937.81 L144.58 935.14 L146.11 932.5 L147.68 929.88 L149.3 927.29 L150.95 924.71 L152.63 922.17 L154.35 919.64 L156.1 917.14 L157.89 914.66 L159.7 912.2 L161.55 909.76 L163.42 907.35 L165.31 904.95 L167.24 902.58 L169.18 900.22 L171.15 897.89 L173.15 895.57 L175.16 893.28 L177.2 891 L179.26 888.74 L181.33 886.5 L183.43 884.27 L185.54 882.07 L187.67 879.88 L189.81 877.7 L191.98 875.54 L194.16 873.4 L196.35 871.27 L198.56 869.16 L200.78 867.07 L203.02 864.98 L205.26 862.92 L207.53 860.86 L209.8 858.82 L212.09 856.8 L214.39 854.78 L216.7 852.78 L219.02 850.8 L221.35 848.82 L223.69 846.86 L226.04 844.91 L228.4 842.97 L230.77 841.04 L233.15 839.13 L235.54 837.22 L237.94 835.33 L240.35 833.45 L242.76 831.58 L245.19 829.72 L247.62 827.87 L250.06 826.03 L252.5 824.2 L254.96 822.38 L257.42 820.57 L259.89 818.77 L262.36 816.98 L264.84 815.19 L267.33 813.42 L269.83 811.66 L272.33 809.9 L274.84 808.16 L277.35 806.42 L279.87 804.7 L282.4 802.98 L284.93 801.27 L287.46 799.56 L290.01 797.87 L292.55 796.18 L295.11 794.5 L297.67 792.84 L300.23 791.17 L302.8 789.52 L305.37 787.87 L307.95 786.23 L310.53 784.6 L313.12 782.98 L315.72 781.36 L318.31 779.76 L319.93 782.89 L322.06 785.04 L324.92 786.33 L328.22 787.19 L331.41 787.76 L334.65 788.19 L337.9 788.3 L341.15 788.25 L344.41 788.17 L347.63 788.02 L350.84 787.58 L354.03 786.89 L357.21 786.13 L360.39 785.42 L363.57 784.76 L366.75 784.07 L369.92 783.37 L373.09 782.67 L376.27 781.96 L379.43 781.23 L382.6 780.5 L383.33 783.6 L384.34 786.58 L385.67 789.44 L387.29 792.16 L389.11 794.79 L391.15 797.15 L393.57 799.17 L396.2 800.98 L398.86 802.66 L401.6 804.27 L404.39 805.77 L407.23 807.15 L410.11 808.41 L413.05 809.57 L416.03 810.65 L419.03 811.67 L422.04 812.64 L425.06 813.57 L428.09 814.45 L431.14 815.29 L434.2 816.09 L437.26 816.87 L440.33 817.61 L443.41 818.32 L446.5 819 L449.17 820.71 L451.91 822.21 L454.77 823.45 L457.69 824.58 L460.66 825.62 L463.68 826.59 L466.71 827.51 L469.75 828.4 L472.77 829.26 L475.8 830.1 L478.84 830.9 L481.89 831.66 L484.95 832.4 L488.02 833.13 L491.08 833.84 L494.15 834.55 L497.22 835.26 L500.28 835.96 L503.35 836.65 L506.43 837.33 L509.5 838 L509.8 834.93 L510.2 831.89 L510.7 828.86 L511.38 825.87 L512.15 822.88 L512.89 819.9 L513.61 816.9 L514.34 813.9 L515.08 810.91 L515.87 807.94 L516.73 805 L517.67 802.1 L518.79 799.24 L520.04 796.43 L521.34 793.63 L522.62 790.83 L523.85 788.01 L525.07 785.19 L526.34 782.39 L527.69 779.63 L529.12 776.92 L530.62 774.24 L532.18 771.58 L533.77 768.95 L535.39 766.33 L537.04 763.75 L538.72 761.18 L540.44 758.62 L542.18 756.09 L543.95 753.57 L545.73 751.06 L547.51 748.56 L549.31 746.06 L551.1 743.57 L552.91 741.07 L554.72 738.58 L556.54 736.09 L558.38 733.61 L560.23 731.15 L562.1 728.7 L563.98 726.27 L565.89 723.86 L567.82 721.47 L569.78 719.12 L571.77 716.79 L573.78 714.49 L575.82 712.21 L577.9 709.94 L580 707.69 L582.13 705.45 L584.29 703.25 L586.47 701.06 L588.68 698.91 L590.91 696.78 L593.17 694.69 L595.45 692.64 L597.74 690.62 L600.07 688.64 L602.43 686.68 L604.83 684.75 L607.25 682.85 L609.7 680.98 L612.18 679.14 L614.68 677.34 L617.2 675.56 L619.74 673.83 L622.3 672.13 L624.87 670.47 L627.48 668.85 L630.12 667.28 L632.79 665.75 L635.48 664.26 L638.2 662.8" fill="none" stroke="#ff0000" stroke-width="5" stroke-linejoin="round" stroke-linecap="butt"/>
</g>
<path d="M126.5 604.9 H638 M126.5 1089.9 H638" stroke="#000" stroke-width="2.2" fill="none"/>
<path d="M272.64 1089.9 v-6.2 M272.64 604.9 v6.2 M455.32 1089.9 v-6.2 M455.32 604.9 v6.2 M638 1089.9 v-6.2 M638 604.9 v6.2 " stroke="#000" stroke-width="2.2" fill="none"/>
<path d="M126.5 603.8 V1091 M126.5 1089.9 h6.2 M126.5 1020.61 h6.2 M126.5 951.33 h6.2 M126.5 882.04 h6.2 M126.5 812.76 h6.2 M126.5 743.47 h6.2 M126.5 674.19 h6.2 " stroke="#0072BD" stroke-width="2.2" fill="none"/>
<text x="0" y="0" font-size="33.33" fill="#0072BD" text-anchor="end" transform="translate(115 1034.06) scale(1 1.055)">0</text>
<text x="0" y="0" font-size="33.33" fill="#0072BD" text-anchor="end" transform="translate(115 964.78) scale(1 1.055)">0.2</text>
<text x="0" y="0" font-size="33.33" fill="#0072BD" text-anchor="end" transform="translate(115 895.49) scale(1 1.055)">0.4</text>
<text x="0" y="0" font-size="33.33" fill="#0072BD" text-anchor="end" transform="translate(115 826.21) scale(1 1.055)">0.6</text>
<text x="0" y="0" font-size="33.33" fill="#0072BD" text-anchor="end" transform="translate(115 756.92) scale(1 1.055)">0.8</text>
<text x="0" y="0" font-size="33.33" fill="#0072BD" text-anchor="end" transform="translate(118 687.64) scale(1 1.055)">1</text>
<path d="M638 603.8 V1091 M638 1089.9 h-6.2 M638 968.65 h-6.2 M638 847.4 h-6.2 M638 726.15 h-6.2 M638 604.9 h-6.2 " stroke="#D95319" stroke-width="2.2" fill="none"/>
<text x="0" y="0" font-size="33.33" fill="#D95319" text-anchor="start" transform="translate(644.6 1102.85) scale(1 1.055)">20</text>
<text x="0" y="0" font-size="33.33" fill="#D95319" text-anchor="start" transform="translate(644.6 981.6) scale(1 1.055)">25</text>
<text x="0" y="0" font-size="33.33" fill="#D95319" text-anchor="start" transform="translate(644.6 860.35) scale(1 1.055)">30</text>
<text x="0" y="0" font-size="33.33" fill="#D95319" text-anchor="start" transform="translate(644.6 739.1) scale(1 1.055)">35</text>
<text x="0" y="0" font-size="33.33" fill="#D95319" text-anchor="start" transform="translate(644.6 617.85) scale(1 1.055)">40</text>
<text x="0" y="0" font-size="33.33" fill="#000" text-anchor="middle" transform="translate(272.64 1129.25) scale(1 1.055)">20</text>
<text x="0" y="0" font-size="33.33" fill="#000" text-anchor="middle" transform="translate(455.32 1129.25) scale(1 1.055)">10</text>
<text x="0" y="0" font-size="33.33" fill="#000" text-anchor="middle" transform="translate(638 1129.25) scale(1 1.055)">0</text>
<text x="383.45" y="1174.9" font-size="36.67" fill="#000" text-anchor="middle" >Time (Ma)</text>
<text x="48.4" y="848.25" font-size="36.3" fill="#0072BD" text-anchor="middle" transform="rotate(-90 48.4 848.25)">Erosion rate (km/my)</text>
<text x="163.1" y="652.1" font-size="31.25" fill="#000" text-anchor="start" >(d)</text>
<text x="0" y="0" font-size="31.25" transform="translate(209.9 652.1) scale(1.26 1.09)">Δ</text>
<text x="237.3" y="652.1" font-size="31.25" fill="#000" text-anchor="start" >t</text>
<text x="258.9" y="654.6" font-size="31.25" fill="#000" text-anchor="start" >=</text>
<text x="285.7" y="652.1" font-size="31.25" fill="#000" text-anchor="start" >3.5</text>
<text x="0" y="0" font-size="32.5" font-style="italic" font-family="Liberation Serif, serif" transform="translate(164.2 693.6) skewX(-13) scale(1.12 1.03)">ϕ</text>
<text x="0" y="0" font-size="24" font-style="italic" font-family="Liberation Serif, serif" transform="translate(185.9 707.2) skewX(-10) scale(1.3 1)">τ</text>
<text x="199.9" y="707.2" font-size="25.5" fill="#000" text-anchor="start" font-style="italic">,</text>
<text x="211.5" y="707.2" font-size="25.5" fill="#000" text-anchor="start" font-style="italic">pr</text>
<text x="242.3" y="696.2" font-size="31.25" fill="#000" text-anchor="start" >=</text>
<text x="269.4" y="693.6" font-size="31.25" fill="#000" text-anchor="start" >4.69,</text>
<text x="0" y="0" font-size="32.5" font-style="italic" font-family="Liberation Serif, serif" transform="translate(350 693.6) skewX(-13) scale(1.12 1.03)">ϕ</text>
<text x="0" y="0" font-size="24" font-style="italic" font-family="Liberation Serif, serif" transform="translate(371.7 707.2) skewX(-10) scale(1.3 1)">τ</text>
<text x="385.7" y="707.2" font-size="25.5" fill="#000" text-anchor="start" font-style="italic">,</text>
<text x="396.7" y="707.2" font-size="25.5" fill="#000" text-anchor="start" font-style="italic">po</text>
<text x="436.2" y="696.2" font-size="31.25" fill="#000" text-anchor="start" >=</text>
<text x="462.5" y="693.6" font-size="31.25" fill="#000" text-anchor="start" >1.6</text>
<text x="0" y="0" font-size="32.5" font-style="italic" font-family="Liberation Serif, serif" transform="translate(164.2 746.9) skewX(-13) scale(1.12 1.03)">ϕ</text>
<text x="0" y="0" font-size="26" font-style="italic" font-family="Liberation Serif, serif" transform="translate(184.4 760.5) skewX(-10) scale(1.12 1)">γ</text>
<text x="201.9" y="760.5" font-size="25.5" fill="#000" text-anchor="start" font-style="italic">,</text>
<text x="215.8" y="760.5" font-size="25.5" fill="#000" text-anchor="start" font-style="italic">pr</text>
<text x="246.5" y="749.5" font-size="31.25" fill="#000" text-anchor="start" >=</text>
<text x="273.3" y="746.9" font-size="31.25" fill="#000" text-anchor="start" >0.08,</text>
<text x="0" y="0" font-size="32.5" font-style="italic" font-family="Liberation Serif, serif" transform="translate(353.9 746.9) skewX(-13) scale(1.12 1.03)">ϕ</text>
<text x="0" y="0" font-size="26" font-style="italic" font-family="Liberation Serif, serif" transform="translate(374.1 760.5) skewX(-10) scale(1.12 1)">γ</text>
<text x="391.6" y="760.5" font-size="25.5" fill="#000" text-anchor="start" font-style="italic">,</text>
<text x="405.4" y="760.5" font-size="25.5" fill="#000" text-anchor="start" font-style="italic">po</text>
<text x="442.9" y="749.5" font-size="31.25" fill="#000" text-anchor="start" >=</text>
<text x="471.2" y="746.9" font-size="31.25" fill="#000" text-anchor="start" >0.34</text>
</g>
<g id="panel-e">
<clipPath id="clip-e"><rect x="780.5" y="604.9" width="511.5" height="485"/></clipPath>
<g clip-path="url(#clip-e)">
<path d="M780.5 760.9 L951 760.9 L951 798.5 L1036.25 798.5 L1036.25 958 L1121.5 958 L1121.5 866.8 L1206.75 866.8 L1206.75 770.2 L1292 770.2" fill="none" stroke="#0000ff" stroke-width="2.2" stroke-linejoin="miter"/>
<path d="M780.5 933.5 L951 933.5 L951 934 L1036.25 934 L1036.25 1046.7 L1121.5 1046.7 L1121.5 938.8 L1206.75 938.8 L1206.75 807.3 L1292 807.3" fill="none" stroke="#0000ff" stroke-width="2.2" stroke-linejoin="miter"/>
<path d="M780.5 847.2 L951 847.2 L951 866.25 L1036.25 866.25 L1036.25 1002.35 L1121.5 1002.35 L1121.5 902.8 L1206.75 902.8 L1206.75 788.75 L1292 788.75" fill="none" stroke="#0000ff" stroke-width="7.3" stroke-linejoin="miter"/>
<path d="M780.5 992.9 L781.78 979.63 L783.06 973.51 L784.35 968.69 L785.63 964.56 L786.91 960.87 L788.19 957.5 L789.47 954.37 L790.76 951.44 L792.04 948.67 L793.32 946.03 L794.6 943.51 L795.88 941.09 L797.17 938.76 L798.45 936.51 L799.73 934.33 L801.01 932.22 L802.29 930.16 L803.58 928.15 L804.86 926.2 L806.14 924.29 L807.42 922.42 L808.7 920.6 L809.98 918.81 L811.27 917.05 L812.55 915.33 L813.83 913.63 L815.11 911.97 L816.39 910.33 L817.68 908.72 L818.96 907.13 L820.24 905.57 L821.52 904.03 L822.8 902.51 L824.09 901.01 L825.37 899.53 L826.65 898.07 L827.93 896.63 L829.21 895.2 L830.5 893.79 L831.78 892.4 L833.06 891.02 L834.34 889.65 L835.62 888.31 L836.91 886.97 L838.19 885.65 L839.47 884.34 L840.75 883.04 L842.03 881.76 L843.32 880.48 L844.6 879.22 L845.88 877.97 L847.16 876.73 L848.44 875.5 L849.73 874.28 L851.01 873.08 L852.29 871.88 L853.57 870.69 L854.85 869.5 L856.14 868.33 L857.42 867.17 L858.7 866.01 L859.98 864.87 L861.26 863.73 L862.55 862.6 L863.83 861.47 L865.11 860.36 L866.39 859.25 L867.67 858.15 L868.95 857.05 L870.24 855.97 L871.52 854.89 L872.8 853.81 L874.08 852.74 L875.36 851.68 L876.65 850.63 L877.93 849.58 L879.21 848.54 L880.49 847.5 L881.77 846.47 L883.06 845.44 L884.34 844.42 L885.62 843.41 L886.9 842.4 L888.18 841.39 L889.47 840.4 L890.75 839.4 L892.03 838.41 L893.31 837.43 L894.59 836.45 L895.88 835.48 L897.16 834.51 L898.44 833.54 L899.72 832.58 L901 831.63 L902.29 830.67 L903.57 829.73 L904.85 828.78 L906.13 827.85 L907.41 826.91 L908.7 825.98 L909.98 825.06 L911.26 824.13 L912.54 823.21 L913.82 822.3 L915.11 821.39 L916.39 820.48 L917.67 819.58 L918.95 818.68 L920.23 817.78 L921.52 816.89 L922.8 816 L924.08 815.12 L925.36 814.24 L926.64 813.36 L927.92 812.48 L929.21 811.61 L930.49 810.74 L931.77 809.88 L933.05 809.02 L934.33 808.16 L935.62 807.3 L936.9 806.45 L938.18 805.6 L939.46 804.75 L940.74 803.91 L942.03 803.07 L943.31 802.23 L944.59 801.4 L945.87 800.57 L947.15 799.74 L948.44 798.91 L949.72 798.09 L951 797.27 L952.28 796.45 L953.56 795.64 L954.85 794.82 L956.13 794.02 L957.41 793.21 L958.69 792.4 L959.97 791.6 L961.26 790.8 L962.54 790.01 L963.82 789.21 L965.1 788.42 L966.38 787.64 L967.67 786.85 L968.95 786.07 L970.23 785.28 L971.51 784.51 L972.79 783.73 L974.08 782.95 L975.36 782.18 L976.64 781.41 L977.92 780.65 L979.2 779.88 L980.48 779.12 L981.77 778.36 L983.05 777.6 L984.33 776.85 L985.61 776.09 L986.89 775.34 L988.18 774.59 L989.46 773.85 L990.74 773.1 L992.02 772.36 L993.3 771.62 L994.59 770.88 L995.87 770.15 L997.15 769.41 L998.43 768.68 L999.71 767.95 L1001 767.22 L1002.28 766.5 L1003.56 765.77 L1004.84 765.05 L1006.12 764.33 L1007.41 763.62 L1008.69 762.9 L1009.97 762.19 L1011.25 761.48 L1012.53 760.77 L1013.82 760.06 L1015.1 759.35 L1016.38 758.65 L1017.66 757.95 L1018.94 757.25 L1020.23 756.55 L1021.51 755.86 L1022.79 755.16 L1024.07 754.47 L1025.35 753.78 L1026.64 753.09 L1027.92 752.4 L1029.2 751.72 L1030.48 751.04 L1031.76 750.36 L1033.05 749.68 L1034.33 749 L1035.61 748.32 L1036.89 747.65 L1038.17 746.98 L1039.45 746.31 L1040.74 745.64 L1042.02 744.97 L1043.3 744.31 L1044.58 743.65 L1045.86 742.98 L1047.15 742.32 L1048.43 741.67 L1049.71 741.01 L1050.99 740.36 L1052.27 739.7 L1053.56 739.05 L1054.84 738.4 L1056.12 737.76 L1057.4 737.11 L1058.68 736.47 L1059.97 735.82 L1061.25 735.18 L1062.53 734.54 L1063.81 733.91 L1065.09 733.27 L1066.38 732.64 L1067.66 732.01 L1068.94 731.38 L1070.22 730.75 L1071.5 730.12 L1072.79 729.49 L1074.07 728.87 L1075.35 728.25 L1076.63 727.63 L1077.91 727.01 L1079.2 726.39 L1080.48 725.77 L1081.76 725.16 L1083.04 724.55 L1084.32 723.94 L1085.61 723.33 L1086.89 722.72 L1088.17 722.11 L1089.45 721.51 L1090.73 720.91 L1092.02 720.3 L1093.3 719.7 L1094.58 719.11 L1095.86 718.51 L1097.14 717.91 L1098.42 717.32 L1099.71 716.73 L1100.99 716.14 L1102.27 715.55 L1103.55 714.96 L1104.83 714.38 L1106.12 713.79 L1107.4 713.21 L1108.68 712.63 L1109.96 712.05 L1111.24 711.47 L1112.53 710.9 L1113.81 710.32 L1115.09 709.75 L1116.37 709.18 L1117.65 708.61 L1118.94 708.04 L1120.22 707.47 L1121.5 706.91 L1122.78 706.34 L1124.06 705.78 L1125.35 705.22 L1126.63 704.66 L1127.91 704.1 L1129.19 703.55 L1130.47 702.99 L1131.76 702.44 L1133.04 701.89 L1134.32 701.34 L1135.6 700.79 L1136.88 700.24 L1138.17 699.7 L1139.45 699.15 L1140.73 698.61 L1142.01 698.07 L1143.29 697.53 L1144.58 696.99 L1145.86 696.45 L1147.14 695.92 L1148.42 695.39 L1149.7 694.85 L1150.98 694.32 L1152.27 693.79 L1153.55 693.27 L1154.83 692.74 L1156.11 692.22 L1157.39 691.69 L1158.68 691.17 L1159.96 690.65 L1161.24 690.13 L1162.52 689.62 L1163.8 689.1 L1165.09 688.59 L1166.37 688.08 L1167.65 687.57 L1168.93 687.06 L1170.21 686.55 L1171.5 686.04 L1172.78 685.54 L1174.06 685.03 L1175.34 684.53 L1176.62 684.03 L1177.91 683.53 L1179.19 683.04 L1180.47 682.54 L1181.75 682.04 L1183.03 681.55 L1184.32 681.06 L1185.6 680.57 L1186.88 680.08 L1188.16 679.6 L1189.44 679.11 L1190.73 678.63 L1192.01 678.14 L1193.29 677.66 L1194.57 677.18 L1195.85 676.71 L1197.14 676.23 L1198.42 675.75 L1199.7 675.28 L1200.98 674.81 L1202.26 674.34 L1203.55 673.87 L1204.83 673.4 L1206.11 672.94 L1207.39 672.47 L1208.67 672.01 L1209.95 671.55 L1211.24 671.09 L1212.52 670.63 L1213.8 670.17 L1215.08 669.72 L1216.36 669.26 L1217.65 668.81 L1218.93 668.36 L1220.21 667.91 L1221.49 667.46 L1222.77 667.02 L1224.06 666.57 L1225.34 666.13 L1226.62 665.69 L1227.9 665.25 L1229.18 664.81 L1230.47 664.37 L1231.75 663.94 L1233.03 663.5 L1234.31 663.07 L1235.59 662.64 L1236.88 662.21 L1238.16 661.78 L1239.44 661.35 L1240.72 660.93 L1242 660.5 L1243.29 660.08 L1244.57 659.66 L1245.85 659.24 L1247.13 658.82 L1248.41 658.41 L1249.7 657.99 L1250.98 657.58 L1252.26 657.17 L1253.54 656.76 L1254.82 656.35 L1256.11 655.94 L1257.39 655.54 L1258.67 655.14 L1259.95 654.73 L1261.23 654.33 L1262.52 653.93 L1263.8 653.54 L1265.08 653.14 L1266.36 652.74 L1267.64 652.35 L1268.92 651.96 L1270.21 651.57 L1271.49 651.18 L1272.77 650.79 L1274.05 650.41 L1275.33 650.03 L1276.62 649.64 L1277.9 649.26 L1279.18 648.88 L1280.46 648.51 L1281.74 648.13 L1283.03 647.76 L1284.31 647.38 L1285.59 647.01 L1286.87 646.64 L1288.15 646.27 L1289.44 645.91 L1290.72 645.54 L1292 645.18" fill="none" stroke="#ff0000" stroke-width="5" stroke-dasharray="48.5 28.5" stroke-linecap="butt"/>
<path d="M781.3 992.9 L781.3 989.81 L781.32 986.75 L781.34 983.69 L781.51 980.66 L782.15 977.64 L782.8 974.65 L783.53 971.67 L784.34 968.72 L785.23 965.78 L786.2 962.87 L787.23 959.99 L788.34 957.13 L789.5 954.3 L790.73 951.49 L792.02 948.71 L793.37 945.95 L794.76 943.22 L796.19 940.52 L797.69 937.84 L799.22 935.19 L800.8 932.56 L802.42 929.96 L804.08 927.38 L805.78 924.83 L807.51 922.3 L809.27 919.79 L811.07 917.31 L812.9 914.85 L814.77 912.42 L816.65 910 L818.57 907.61 L820.51 905.24 L822.48 902.89 L824.47 900.56 L826.49 898.25 L828.53 895.96 L830.58 893.69 L832.66 891.44 L834.76 889.21 L836.88 886.99 L839.02 884.8 L841.17 882.62 L843.35 880.45 L845.53 878.31 L847.74 876.18 L849.96 874.07 L852.19 871.97 L854.44 869.88 L856.7 867.82 L858.98 865.76 L861.27 863.72 L863.57 861.7 L865.88 859.69 L868.21 857.69 L870.54 855.71 L872.89 853.74 L875.25 851.78 L877.62 849.83 L879.99 847.9 L882.38 845.98 L884.78 844.07 L887.19 842.17 L889.6 840.29 L892.03 838.41 L894.46 836.55 L896.9 834.7 L899.35 832.86 L901.81 831.03 L904.28 829.21 L906.75 827.4 L909.23 825.59 L911.72 823.8 L914.21 822.02 L916.71 820.25 L919.22 818.49 L921.74 816.74 L924.26 815 L926.78 813.26 L929.32 811.54 L931.86 809.82 L934.4 808.11 L936.95 806.41 L939.51 804.72 L942.07 803.04 L944.64 801.37 L947.21 799.7 L953.99 796.72 L956.89 795.55 L959.79 794.39 L962.7 793.24 L965.61 792.1 L968.52 790.97 L971.44 789.85 L974.36 788.74 L977.29 787.65 L980.23 786.59 L983.18 785.55 L986.13 784.53 L989.09 783.5 L992.04 782.47 L994.98 781.42 L997.91 780.34 L1000.83 779.22 L1003.73 778.06 L1006.6 776.85 L1009.47 775.6 L1012.33 774.34 L1015.19 773.07 L1018.06 771.83 L1020.94 770.61 L1023.82 769.41 L1026.71 768.22 L1029.6 767.04 L1032.5 765.86 L1035.4 764.7 L1036.29 767.69 L1037.14 770.69 L1037.95 773.7 L1038.71 776.73 L1039.57 779.72 L1040.53 782.69 L1041.58 785.64 L1042.72 788.53 L1043.95 791.41 L1045.31 794.23 L1046.79 796.96 L1048.45 799.57 L1050.26 802.12 L1052.19 804.6 L1054.18 807.02 L1056.19 809.39 L1058.28 811.71 L1060.44 813.98 L1062.67 816.17 L1064.94 818.28 L1067.29 820.33 L1069.71 822.31 L1072.19 824.23 L1074.7 826.08 L1077.25 827.86 L1079.85 829.58 L1082.5 831.24 L1085.18 832.84 L1087.89 834.4 L1090.61 835.91 L1093.37 837.36 L1096.15 838.77 L1098.96 840.14 L1101.77 841.48 L1104.6 842.81 L1107.42 844.13 L1110.26 845.42 L1113.1 846.7 L1115.96 847.96 L1118.82 849.19 L1121.7 850.4 L1122.12 847.25 L1122.73 844.16 L1123.52 841.12 L1124.6 838.14 L1125.88 835.25 L1127.4 832.46 L1129.18 829.89 L1131.27 827.5 L1133.42 825.19 L1135.63 822.91 L1137.9 820.7 L1140.26 818.61 L1142.71 816.66 L1145.26 814.79 L1147.89 813.02 L1150.56 811.32 L1153.26 809.69 L1155.99 808.11 L1158.77 806.58 L1161.59 805.14 L1164.44 803.8 L1167.34 802.58 L1170.29 801.45 L1173.27 800.39 L1176.25 799.34 L1179.23 798.29 L1182.21 797.24 L1185.2 796.21 L1188.19 795.21 L1191.2 794.25 L1194.22 793.33 L1197.25 792.45 L1200.29 791.6 L1203.34 790.78 L1206.4 790 L1206.71 786.92 L1207.14 783.86 L1207.66 780.82 L1208.25 777.81 L1209.02 774.82 L1209.91 771.85 L1210.83 768.91 L1211.8 765.99 L1212.84 763.07 L1213.92 760.18 L1215.06 757.31 L1216.23 754.46 L1217.46 751.64 L1218.77 748.84 L1220.13 746.07 L1221.52 743.31 L1222.92 740.56 L1224.34 737.82 L1225.78 735.08 L1227.25 732.37 L1228.77 729.68 L1230.35 727.04 L1232.01 724.45 L1233.75 721.91 L1235.57 719.41 L1237.43 716.95 L1239.32 714.5 L1241.21 712.06 L1243.11 709.63 L1245.03 707.21 L1246.98 704.81 L1248.97 702.45 L1250.99 700.12 L1253.06 697.85 L1255.18 695.61 L1257.34 693.41 L1259.54 691.24 L1261.76 689.09 L1263.99 686.95 L1266.21 684.81 L1268.44 682.68 L1270.67 680.54 L1272.92 678.43 L1275.2 676.34 L1277.5 674.29 L1279.84 672.29 L1282.21 670.33 L1284.61 668.39 L1287.05 666.5 L1289.51 664.63 L1292 662.8" fill="none" stroke="#ff0000" stroke-width="5" stroke-linejoin="round" stroke-linecap="butt"/>
</g>
<path d="M780.5 604.9 H1292 M780.5 1089.9 H1292" stroke="#000" stroke-width="2.2" fill="none"/>
<path d="M913.11 1089.9 v-6.2 M913.11 604.9 v6.2 M1102.56 1089.9 v-6.2 M1102.56 604.9 v6.2 M1292 1089.9 v-6.2 M1292 604.9 v6.2 " stroke="#000" stroke-width="2.2" fill="none"/>
<path d="M780.5 603.8 V1091 M780.5 1089.9 h6.2 M780.5 1020.61 h6.2 M780.5 951.33 h6.2 M780.5 882.04 h6.2 M780.5 812.76 h6.2 M780.5 743.47 h6.2 M780.5 674.19 h6.2 " stroke="#0072BD" stroke-width="2.2" fill="none"/>
<text x="0" y="0" font-size="33.33" fill="#0072BD" text-anchor="end" transform="translate(769 1034.06) scale(1 1.055)">0</text>
<text x="0" y="0" font-size="33.33" fill="#0072BD" text-anchor="end" transform="translate(769 964.78) scale(1 1.055)">0.2</text>
<text x="0" y="0" font-size="33.33" fill="#0072BD" text-anchor="end" transform="translate(769 895.49) scale(1 1.055)">0.4</text>
<text x="0" y="0" font-size="33.33" fill="#0072BD" text-anchor="end" transform="translate(769 826.21) scale(1 1.055)">0.6</text>
<text x="0" y="0" font-size="33.33" fill="#0072BD" text-anchor="end" transform="translate(769 756.92) scale(1 1.055)">0.8</text>
<text x="0" y="0" font-size="33.33" fill="#0072BD" text-anchor="end" transform="translate(772 687.64) scale(1 1.055)">1</text>
<path d="M1292 603.8 V1091 M1292 1089.9 h-6.2 M1292 968.65 h-6.2 M1292 847.4 h-6.2 M1292 726.15 h-6.2 M1292 604.9 h-6.2 " stroke="#D95319" stroke-width="2.2" fill="none"/>
<text x="0" y="0" font-size="33.33" fill="#D95319" text-anchor="start" transform="translate(1298.6 1102.85) scale(1 1.055)">20</text>
<text x="0" y="0" font-size="33.33" fill="#D95319" text-anchor="start" transform="translate(1298.6 981.6) scale(1 1.055)">25</text>
<text x="0" y="0" font-size="33.33" fill="#D95319" text-anchor="start" transform="translate(1298.6 860.35) scale(1 1.055)">30</text>
<text x="0" y="0" font-size="33.33" fill="#D95319" text-anchor="start" transform="translate(1298.6 739.1) scale(1 1.055)">35</text>
<text x="0" y="0" font-size="33.33" fill="#D95319" text-anchor="start" transform="translate(1298.6 617.85) scale(1 1.055)">40</text>
<text x="0" y="0" font-size="33.33" fill="#000" text-anchor="middle" transform="translate(913.11 1129.25) scale(1 1.055)">20</text>
<text x="0" y="0" font-size="33.33" fill="#000" text-anchor="middle" transform="translate(1102.56 1129.25) scale(1 1.055)">10</text>
<text x="0" y="0" font-size="33.33" fill="#000" text-anchor="middle" transform="translate(1292 1129.25) scale(1 1.055)">0</text>
<text x="1037.45" y="1174.9" font-size="36.67" fill="#000" text-anchor="middle" >Time (Ma)</text>
<text x="814.6" y="652.1" font-size="31.25" fill="#000" text-anchor="start" >(e)</text>
<text x="0" y="0" font-size="31.25" transform="translate(858.1 652.1) scale(1.26 1.09)">Δ</text>
<text x="885.5" y="652.1" font-size="31.25" fill="#000" text-anchor="start" >t</text>
<text x="907.1" y="654.6" font-size="31.25" fill="#000" text-anchor="start" >=</text>
<text x="933.9" y="652.1" font-size="31.25" fill="#000" text-anchor="start" >4.5</text>
<text x="0" y="0" font-size="32.5" font-style="italic" font-family="Liberation Serif, serif" transform="translate(815.7 693.6) skewX(-13) scale(1.12 1.03)">ϕ</text>
<text x="0" y="0" font-size="24" font-style="italic" font-family="Liberation Serif, serif" transform="translate(837.4 707.2) skewX(-10) scale(1.3 1)">τ</text>
<text x="851.4" y="707.2" font-size="25.5" fill="#000" text-anchor="start" font-style="italic">,</text>
<text x="863" y="707.2" font-size="25.5" fill="#000" text-anchor="start" font-style="italic">pr</text>
<text x="893.8" y="696.2" font-size="31.25" fill="#000" text-anchor="start" >=</text>
<text x="920.9" y="693.6" font-size="31.25" fill="#000" text-anchor="start" >4.69,</text>
<text x="0" y="0" font-size="32.5" font-style="italic" font-family="Liberation Serif, serif" transform="translate(1001.5 693.6) skewX(-13) scale(1.12 1.03)">ϕ</text>
<text x="0" y="0" font-size="24" font-style="italic" font-family="Liberation Serif, serif" transform="translate(1023.2 707.2) skewX(-10) scale(1.3 1)">τ</text>
<text x="1037.2" y="707.2" font-size="25.5" fill="#000" text-anchor="start" font-style="italic">,</text>
<text x="1048.2" y="707.2" font-size="25.5" fill="#000" text-anchor="start" font-style="italic">po</text>
<text x="1087.7" y="696.2" font-size="31.25" fill="#000" text-anchor="start" >=</text>
<text x="1114" y="693.6" font-size="31.25" fill="#000" text-anchor="start" >2.77</text>
<text x="0" y="0" font-size="32.5" font-style="italic" font-family="Liberation Serif, serif" transform="translate(815.7 746.9) skewX(-13) scale(1.12 1.03)">ϕ</text>
<text x="0" y="0" font-size="26" font-style="italic" font-family="Liberation Serif, serif" transform="translate(835.9 760.5) skewX(-10) scale(1.12 1)">γ</text>
<text x="853.4" y="760.5" font-size="25.5" fill="#000" text-anchor="start" font-style="italic">,</text>
<text x="867.3" y="760.5" font-size="25.5" fill="#000" text-anchor="start" font-style="italic">pr</text>
<text x="898" y="749.5" font-size="31.25" fill="#000" text-anchor="start" >=</text>
<text x="924.8" y="746.9" font-size="31.25" fill="#000" text-anchor="start" >0.14,</text>
<text x="0" y="0" font-size="32.5" font-style="italic" font-family="Liberation Serif, serif" transform="translate(1005.4 746.9) skewX(-13) scale(1.12 1.03)">ϕ</text>
<text x="0" y="0" font-size="26" font-style="italic" font-family="Liberation Serif, serif" transform="translate(1025.6 760.5) skewX(-10) scale(1.12 1)">γ</text>
<text x="1043.1" y="760.5" font-size="25.5" fill="#000" text-anchor="start" font-style="italic">,</text>
<text x="1056.9" y="760.5" font-size="25.5" fill="#000" text-anchor="start" font-style="italic">po</text>
<text x="1094.4" y="749.5" font-size="31.25" fill="#000" text-anchor="start" >=</text>
<text x="1122.7" y="746.9" font-size="31.25" fill="#000" text-anchor="start" >0.32</text>
</g>
<g id="panel-f">
<clipPath id="clip-f"><rect x="1434.2" y="604.9" width="511.5" height="485"/></clipPath>
<g clip-path="url(#clip-f)">
<path d="M1434.2 760.4 L1536.5 760.4 L1536.5 769.2 L1638.8 769.2 L1638.8 947.1 L1741.1 947.1 L1741.1 866.8 L1843.4 866.8 L1843.4 777.2 L1945.7 777.2" fill="none" stroke="#0000ff" stroke-width="2.2" stroke-linejoin="miter"/>
<path d="M1434.2 933.5 L1536.5 933.5 L1536.5 936 L1638.8 936 L1638.8 1036.6 L1741.1 1036.6 L1741.1 928.3 L1843.4 928.3 L1843.4 806.5 L1945.7 806.5" fill="none" stroke="#0000ff" stroke-width="2.2" stroke-linejoin="miter"/>
<path d="M1434.2 846.95 L1536.5 846.95 L1536.5 852.6 L1638.8 852.6 L1638.8 991.85 L1741.1 991.85 L1741.1 897.55 L1843.4 897.55 L1843.4 791.85 L1945.7 791.85" fill="none" stroke="#0000ff" stroke-width="7.3" stroke-linejoin="miter"/>
<path d="M1434.2 1089.9 L1435.48 1073.99 L1436.76 1066.66 L1438.05 1060.89 L1439.33 1055.93 L1440.61 1051.51 L1441.89 1047.48 L1443.17 1043.73 L1444.46 1040.22 L1445.74 1036.9 L1447.02 1033.74 L1448.3 1030.72 L1449.58 1027.82 L1450.87 1025.03 L1452.15 1022.33 L1453.43 1019.72 L1454.71 1017.19 L1455.99 1014.72 L1457.28 1012.32 L1458.56 1009.98 L1459.84 1007.69 L1461.12 1005.46 L1462.4 1003.27 L1463.68 1001.12 L1464.97 999.02 L1466.25 996.95 L1467.53 994.93 L1468.81 992.93 L1470.09 990.97 L1471.38 989.04 L1472.66 987.14 L1473.94 985.27 L1475.22 983.42 L1476.5 981.6 L1477.79 979.81 L1479.07 978.03 L1480.35 976.28 L1481.63 974.56 L1482.91 972.85 L1484.2 971.16 L1485.48 969.49 L1486.76 967.84 L1488.04 966.21 L1489.32 964.59 L1490.61 962.99 L1491.89 961.41 L1493.17 959.84 L1494.45 958.29 L1495.73 956.75 L1497.02 955.23 L1498.3 953.72 L1499.58 952.22 L1500.86 950.74 L1502.14 949.26 L1503.43 947.8 L1504.71 946.36 L1505.99 944.92 L1507.27 943.5 L1508.55 942.08 L1509.84 940.68 L1511.12 939.28 L1512.4 937.9 L1513.68 936.53 L1514.96 935.17 L1516.25 933.81 L1517.53 932.47 L1518.81 931.13 L1520.09 929.81 L1521.37 928.49 L1522.65 927.18 L1523.94 925.88 L1525.22 924.58 L1526.5 923.3 L1527.78 922.02 L1529.06 920.75 L1530.35 919.49 L1531.63 918.23 L1532.91 916.98 L1534.19 915.74 L1535.47 914.51 L1536.76 913.28 L1538.04 912.06 L1539.32 910.85 L1540.6 909.64 L1541.88 908.44 L1543.17 907.24 L1544.45 906.05 L1545.73 904.87 L1547.01 903.69 L1548.29 902.52 L1549.58 901.35 L1550.86 900.19 L1552.14 899.04 L1553.42 897.89 L1554.7 896.75 L1555.99 895.61 L1557.27 894.47 L1558.55 893.35 L1559.83 892.22 L1561.11 891.1 L1562.4 889.99 L1563.68 888.88 L1564.96 887.78 L1566.24 886.68 L1567.52 885.59 L1568.81 884.5 L1570.09 883.41 L1571.37 882.33 L1572.65 881.25 L1573.93 880.18 L1575.22 879.11 L1576.5 878.05 L1577.78 876.99 L1579.06 875.93 L1580.34 874.88 L1581.62 873.83 L1582.91 872.79 L1584.19 871.75 L1585.47 870.72 L1586.75 869.68 L1588.03 868.66 L1589.32 867.63 L1590.6 866.61 L1591.88 865.59 L1593.16 864.58 L1594.44 863.57 L1595.73 862.56 L1597.01 861.56 L1598.29 860.56 L1599.57 859.57 L1600.85 858.57 L1602.14 857.59 L1603.42 856.6 L1604.7 855.62 L1605.98 854.64 L1607.26 853.66 L1608.55 852.69 L1609.83 851.72 L1611.11 850.75 L1612.39 849.79 L1613.67 848.83 L1614.96 847.87 L1616.24 846.92 L1617.52 845.97 L1618.8 845.02 L1620.08 844.08 L1621.37 843.13 L1622.65 842.19 L1623.93 841.26 L1625.21 840.32 L1626.49 839.39 L1627.78 838.46 L1629.06 837.54 L1630.34 836.62 L1631.62 835.7 L1632.9 834.78 L1634.18 833.87 L1635.47 832.95 L1636.75 832.05 L1638.03 831.14 L1639.31 830.24 L1640.59 829.33 L1641.88 828.44 L1643.16 827.54 L1644.44 826.65 L1645.72 825.76 L1647 824.87 L1648.29 823.98 L1649.57 823.1 L1650.85 822.22 L1652.13 821.34 L1653.41 820.46 L1654.7 819.59 L1655.98 818.72 L1657.26 817.85 L1658.54 816.98 L1659.82 816.12 L1661.11 815.26 L1662.39 814.4 L1663.67 813.54 L1664.95 812.68 L1666.23 811.83 L1667.52 810.98 L1668.8 810.13 L1670.08 809.29 L1671.36 808.44 L1672.64 807.6 L1673.93 806.76 L1675.21 805.93 L1676.49 805.09 L1677.77 804.26 L1679.05 803.43 L1680.34 802.6 L1681.62 801.77 L1682.9 800.95 L1684.18 800.13 L1685.46 799.31 L1686.75 798.49 L1688.03 797.67 L1689.31 796.86 L1690.59 796.05 L1691.87 795.24 L1693.15 794.43 L1694.44 793.63 L1695.72 792.82 L1697 792.02 L1698.28 791.22 L1699.56 790.42 L1700.85 789.63 L1702.13 788.84 L1703.41 788.04 L1704.69 787.25 L1705.97 786.47 L1707.26 785.68 L1708.54 784.9 L1709.82 784.12 L1711.1 783.34 L1712.38 782.56 L1713.67 781.78 L1714.95 781.01 L1716.23 780.24 L1717.51 779.47 L1718.79 778.7 L1720.08 777.93 L1721.36 777.17 L1722.64 776.41 L1723.92 775.65 L1725.2 774.89 L1726.49 774.13 L1727.77 773.37 L1729.05 772.62 L1730.33 771.87 L1731.61 771.12 L1732.9 770.37 L1734.18 769.63 L1735.46 768.88 L1736.74 768.14 L1738.02 767.4 L1739.31 766.66 L1740.59 765.92 L1741.87 765.19 L1743.15 764.46 L1744.43 763.72 L1745.72 762.99 L1747 762.27 L1748.28 761.54 L1749.56 760.82 L1750.84 760.09 L1752.12 759.37 L1753.41 758.65 L1754.69 757.94 L1755.97 757.22 L1757.25 756.51 L1758.53 755.79 L1759.82 755.08 L1761.1 754.37 L1762.38 753.67 L1763.66 752.96 L1764.94 752.26 L1766.23 751.56 L1767.51 750.86 L1768.79 750.16 L1770.07 749.46 L1771.35 748.77 L1772.64 748.07 L1773.92 747.38 L1775.2 746.69 L1776.48 746 L1777.76 745.32 L1779.05 744.63 L1780.33 743.95 L1781.61 743.27 L1782.89 742.59 L1784.17 741.91 L1785.46 741.23 L1786.74 740.56 L1788.02 739.89 L1789.3 739.21 L1790.58 738.54 L1791.87 737.88 L1793.15 737.21 L1794.43 736.55 L1795.71 735.88 L1796.99 735.22 L1798.28 734.56 L1799.56 733.9 L1800.84 733.25 L1802.12 732.59 L1803.4 731.94 L1804.68 731.29 L1805.97 730.64 L1807.25 729.99 L1808.53 729.34 L1809.81 728.7 L1811.09 728.05 L1812.38 727.41 L1813.66 726.77 L1814.94 726.13 L1816.22 725.5 L1817.5 724.86 L1818.79 724.23 L1820.07 723.6 L1821.35 722.97 L1822.63 722.34 L1823.91 721.71 L1825.2 721.09 L1826.48 720.46 L1827.76 719.84 L1829.04 719.22 L1830.32 718.6 L1831.61 717.98 L1832.89 717.37 L1834.17 716.75 L1835.45 716.14 L1836.73 715.53 L1838.02 714.92 L1839.3 714.31 L1840.58 713.71 L1841.86 713.1 L1843.14 712.5 L1844.43 711.9 L1845.71 711.3 L1846.99 710.7 L1848.27 710.11 L1849.55 709.51 L1850.84 708.92 L1852.12 708.33 L1853.4 707.74 L1854.68 707.15 L1855.96 706.56 L1857.25 705.98 L1858.53 705.39 L1859.81 704.81 L1861.09 704.23 L1862.37 703.65 L1863.65 703.08 L1864.94 702.5 L1866.22 701.93 L1867.5 701.35 L1868.78 700.78 L1870.06 700.21 L1871.35 699.65 L1872.63 699.08 L1873.91 698.52 L1875.19 697.95 L1876.47 697.39 L1877.76 696.83 L1879.04 696.28 L1880.32 695.72 L1881.6 695.17 L1882.88 694.61 L1884.17 694.06 L1885.45 693.51 L1886.73 692.96 L1888.01 692.42 L1889.29 691.87 L1890.58 691.33 L1891.86 690.79 L1893.14 690.25 L1894.42 689.71 L1895.7 689.17 L1896.99 688.64 L1898.27 688.1 L1899.55 687.57 L1900.83 687.04 L1902.11 686.51 L1903.4 685.99 L1904.68 685.46 L1905.96 684.94 L1907.24 684.41 L1908.52 683.89 L1909.81 683.37 L1911.09 682.86 L1912.37 682.34 L1913.65 681.83 L1914.93 681.31 L1916.22 680.8 L1917.5 680.29 L1918.78 679.79 L1920.06 679.28 L1921.34 678.77 L1922.62 678.27 L1923.91 677.77 L1925.19 677.27 L1926.47 676.77 L1927.75 676.28 L1929.03 675.78 L1930.32 675.29 L1931.6 674.8 L1932.88 674.31 L1934.16 673.82 L1935.44 673.33 L1936.73 672.85 L1938.01 672.36 L1939.29 671.88 L1940.57 671.4 L1941.85 670.92 L1943.14 670.45 L1944.42 669.97 L1945.7 669.5" fill="none" stroke="#ff0000" stroke-width="5" stroke-dasharray="48.5 28.5" stroke-linecap="butt"/>
<path d="M1435 1089.9 L1435.01 1086.86 L1435.03 1083.82 L1435.06 1080.8 L1435.11 1077.78 L1435.27 1074.78 L1435.8 1071.78 L1436.35 1068.8 L1436.93 1065.83 L1437.58 1062.87 L1438.28 1059.93 L1439.04 1057 L1439.85 1054.08 L1440.71 1051.18 L1441.62 1048.29 L1442.58 1045.42 L1443.59 1042.56 L1444.64 1039.72 L1445.74 1036.9 L1446.87 1034.09 L1448.05 1031.3 L1449.26 1028.53 L1450.52 1025.78 L1451.81 1023.04 L1453.14 1020.31 L1454.5 1017.61 L1455.89 1014.92 L1457.31 1012.25 L1458.77 1009.59 L1460.26 1006.96 L1461.77 1004.34 L1463.32 1001.73 L1464.89 999.14 L1466.49 996.57 L1468.11 994.02 L1469.76 991.48 L1471.43 988.95 L1473.13 986.45 L1474.85 983.96 L1476.59 981.48 L1478.36 979.02 L1480.14 976.57 L1481.94 974.14 L1483.77 971.72 L1485.61 969.32 L1487.47 966.93 L1489.35 964.56 L1491.25 962.2 L1493.16 959.85 L1495.09 957.52 L1497.04 955.2 L1499 952.89 L1500.98 950.6 L1502.97 948.32 L1504.98 946.05 L1507 943.8 L1509.03 941.56 L1511.08 939.33 L1513.14 937.11 L1515.21 934.9 L1517.3 932.71 L1519.4 930.52 L1521.51 928.35 L1523.63 926.19 L1525.76 924.04 L1527.9 921.9 L1530.06 919.77 L1532.22 917.66 L1534.39 915.55 L1536.58 913.46 L1538.91 911.56 L1541.33 909.74 L1543.8 908 L1546.31 906.29 L1548.84 904.6 L1551.35 902.89 L1553.84 901.15 L1556.27 899.34 L1558.66 897.49 L1561.03 895.61 L1563.38 893.71 L1565.73 891.79 L1568.06 889.86 L1570.39 887.92 L1572.73 885.99 L1575.07 884.07 L1577.42 882.16 L1579.79 880.27 L1582.17 878.41 L1584.57 876.56 L1586.97 874.72 L1589.38 872.88 L1591.79 871.05 L1594.21 869.23 L1596.64 867.42 L1599.08 865.62 L1601.52 863.83 L1603.96 862.05 L1606.42 860.27 L1608.87 858.51 L1611.34 856.75 L1613.81 855 L1616.28 853.25 L1618.76 851.51 L1621.24 849.79 L1623.73 848.06 L1626.23 846.35 L1628.73 844.64 L1631.24 842.94 L1633.75 841.25 L1636.27 839.57 L1638.8 837.9 L1639.32 840.96 L1639.84 844.03 L1640.33 847.1 L1640.79 850.18 L1641.35 853.23 L1642.06 856.26 L1642.91 859.27 L1643.87 862.23 L1644.94 865.13 L1646.2 867.98 L1647.61 870.77 L1649.12 873.48 L1650.69 876.16 L1652.35 878.82 L1654.09 881.45 L1655.91 884.01 L1657.81 886.5 L1659.78 888.88 L1661.81 891.14 L1663.96 893.32 L1666.22 895.44 L1668.57 897.51 L1671.01 899.51 L1673.51 901.44 L1676.05 903.29 L1678.63 905.07 L1681.21 906.76 L1683.82 908.36 L1686.5 909.9 L1689.23 911.38 L1692 912.8 L1694.81 914.18 L1697.64 915.52 L1700.49 916.83 L1703.34 918.11 L1706.18 919.37 L1709.03 920.61 L1711.89 921.82 L1714.78 922.99 L1717.67 924.13 L1720.58 925.24 L1723.5 926.32 L1726.42 927.37 L1729.35 928.39 L1732.3 929.39 L1735.26 930.35 L1738.22 931.29 L1741.2 932.2 L1741.52 929.14 L1741.98 926.11 L1742.61 923.11 L1743.42 920.15 L1744.37 917.23 L1745.45 914.35 L1746.63 911.52 L1747.95 908.74 L1749.38 906.02 L1750.9 903.36 L1752.53 900.72 L1754.28 898.18 L1756.17 895.81 L1758.27 893.62 L1760.57 891.57 L1762.95 889.58 L1765.31 887.6 L1767.67 885.65 L1770.07 883.73 L1772.5 881.85 L1774.97 880.02 L1777.45 878.23 L1779.97 876.46 L1782.52 874.73 L1785.1 873.07 L1787.72 871.5 L1790.38 869.99 L1793.07 868.53 L1795.79 867.12 L1798.54 865.74 L1801.3 864.38 L1804.08 863.06 L1806.87 861.75 L1809.66 860.46 L1812.45 859.18 L1815.24 857.91 L1818.04 856.66 L1820.86 855.44 L1823.69 854.25 L1826.53 853.09 L1829.38 851.96 L1832.24 850.85 L1835.12 849.77 L1838 848.72 L1840.89 847.7 L1843.8 846.7 L1844.18 843.66 L1844.6 840.63 L1845.06 837.61 L1845.57 834.58 L1846.13 831.57 L1846.79 828.59 L1847.53 825.62 L1848.36 822.66 L1849.26 819.73 L1850.23 816.84 L1851.31 813.98 L1852.5 811.16 L1853.75 808.36 L1855.03 805.57 L1856.31 802.79 L1857.64 800.03 L1859 797.29 L1860.42 794.57 L1861.9 791.9 L1863.45 789.26 L1865.05 786.65 L1866.69 784.06 L1868.35 781.5 L1870.05 778.95 L1871.77 776.42 L1873.52 773.91 L1875.29 771.41 L1877.07 768.92 L1878.85 766.43 L1880.64 763.94 L1882.41 761.45 L1884.18 758.94 L1885.93 756.43 L1887.68 753.92 L1889.43 751.4 L1891.17 748.88 L1892.92 746.36 L1894.68 743.85 L1896.44 741.34 L1898.21 738.84 L1899.99 736.35 L1901.79 733.88 L1903.61 731.42 L1905.45 728.99 L1907.32 726.57 L1909.21 724.17 L1911.11 721.78 L1913.03 719.39 L1914.97 717.01 L1916.92 714.64 L1918.9 712.29 L1920.89 709.96 L1922.91 707.64 L1924.94 705.35 L1927 703.08 L1929.09 700.85 L1931.2 698.64 L1933.33 696.47 L1935.51 694.34 L1937.74 692.25 L1940.01 690.19 L1942.31 688.17 L1944.64 686.17 L1947 684.2" fill="none" stroke="#ff0000" stroke-width="5" stroke-linejoin="round" stroke-linecap="butt"/>
</g>
<path d="M1434.2 604.9 H1945.7 M1434.2 1089.9 H1945.7" stroke="#000" stroke-width="2.2" fill="none"/>
<path d="M1434.2 1089.9 v-6.2 M1434.2 604.9 v6.2 M1536.5 1089.9 v-6.2 M1536.5 604.9 v6.2 M1638.8 1089.9 v-6.2 M1638.8 604.9 v6.2 M1741.1 1089.9 v-6.2 M1741.1 604.9 v6.2 M1843.4 1089.9 v-6.2 M1843.4 604.9 v6.2 M1945.7 1089.9 v-6.2 M1945.7 604.9 v6.2 " stroke="#000" stroke-width="2.2" fill="none"/>
<path d="M1434.2 603.8 V1091 M1434.2 1089.9 h6.2 M1434.2 1020.61 h6.2 M1434.2 951.33 h6.2 M1434.2 882.04 h6.2 M1434.2 812.76 h6.2 M1434.2 743.47 h6.2 M1434.2 674.19 h6.2 " stroke="#0072BD" stroke-width="2.2" fill="none"/>
<text x="0" y="0" font-size="33.33" fill="#0072BD" text-anchor="end" transform="translate(1422.7 1034.06) scale(1 1.055)">0</text>
<text x="0" y="0" font-size="33.33" fill="#0072BD" text-anchor="end" transform="translate(1422.7 964.78) scale(1 1.055)">0.2</text>
<text x="0" y="0" font-size="33.33" fill="#0072BD" text-anchor="end" transform="translate(1422.7 895.49) scale(1 1.055)">0.4</text>
<text x="0" y="0" font-size="33.33" fill="#0072BD" text-anchor="end" transform="translate(1422.7 826.21) scale(1 1.055)">0.6</text>
<text x="0" y="0" font-size="33.33" fill="#0072BD" text-anchor="end" transform="translate(1422.7 756.92) scale(1 1.055)">0.8</text>
<text x="0" y="0" font-size="33.33" fill="#0072BD" text-anchor="end" transform="translate(1425.7 687.64) scale(1 1.055)">1</text>
<path d="M1945.7 603.8 V1091 M1945.7 1059.59 h-6.2 M1945.7 908.03 h-6.2 M1945.7 756.46 h-6.2 M1945.7 604.9 h-6.2 " stroke="#D95319" stroke-width="2.2" fill="none"/>
<text x="0" y="0" font-size="33.33" fill="#D95319" text-anchor="start" transform="translate(1952.3 1072.54) scale(1 1.055)">25</text>
<text x="0" y="0" font-size="33.33" fill="#D95319" text-anchor="start" transform="translate(1952.3 920.98) scale(1 1.055)">30</text>
<text x="0" y="0" font-size="33.33" fill="#D95319" text-anchor="start" transform="translate(1952.3 769.41) scale(1 1.055)">35</text>
<text x="0" y="0" font-size="33.33" fill="#D95319" text-anchor="start" transform="translate(1952.3 617.85) scale(1 1.055)">40</text>
<text x="0" y="0" font-size="33.33" fill="#000" text-anchor="middle" transform="translate(1434.2 1129.25) scale(1 1.055)">25</text>
<text x="0" y="0" font-size="33.33" fill="#000" text-anchor="middle" transform="translate(1536.5 1129.25) scale(1 1.055)">20</text>
<text x="0" y="0" font-size="33.33" fill="#000" text-anchor="middle" transform="translate(1638.8 1129.25) scale(1 1.055)">15</text>
<text x="0" y="0" font-size="33.33" fill="#000" text-anchor="middle" transform="translate(1741.1 1129.25) scale(1 1.055)">10</text>
<text x="0" y="0" font-size="33.33" fill="#000" text-anchor="middle" transform="translate(1843.4 1129.25) scale(1 1.055)">5</text>
<text x="0" y="0" font-size="33.33" fill="#000" text-anchor="middle" transform="translate(1945.7 1129.25) scale(1 1.055)">0</text>
<text x="1691.15" y="1174.9" font-size="36.67" fill="#000" text-anchor="middle" >Time (Ma)</text>
<text x="0" y="0" font-size="36.4" fill="#D95319" transform="translate(2041.3 1086.7) rotate(-90)">Geothermal gradient</text>
<text x="0" y="0" font-size="36.4" fill="#D95319" transform="translate(2041.3 745.1) rotate(-90)">(</text>
<text x="0" y="0" font-size="30.5" fill="#D95319" transform="translate(2024.9 731.1) rotate(-90)">o</text>
<text x="0" y="0" font-size="36.4" fill="#D95319" transform="translate(2041.3 712.1) rotate(-90)">C/km)</text>
<text x="1470.4" y="652.1" font-size="31.25" fill="#000" text-anchor="start" >(f)</text>
<text x="0" y="0" font-size="31.25" transform="translate(1509.2 652.1) scale(1.26 1.09)">Δ</text>
<text x="1536.6" y="652.1" font-size="31.25" fill="#000" text-anchor="start" >t</text>
<text x="1558.2" y="654.6" font-size="31.25" fill="#000" text-anchor="start" >=</text>
<text x="1585" y="652.1" font-size="31.25" fill="#000" text-anchor="start" >5</text>
<text x="0" y="0" font-size="32.5" font-style="italic" font-family="Liberation Serif, serif" transform="translate(1471.5 693.6) skewX(-13) scale(1.12 1.03)">ϕ</text>
<text x="0" y="0" font-size="24" font-style="italic" font-family="Liberation Serif, serif" transform="translate(1493.2 707.2) skewX(-10) scale(1.3 1)">τ</text>
<text x="1507.2" y="707.2" font-size="25.5" fill="#000" text-anchor="start" font-style="italic">,</text>
<text x="1518.8" y="707.2" font-size="25.5" fill="#000" text-anchor="start" font-style="italic">pr</text>
<text x="1549.6" y="696.2" font-size="31.25" fill="#000" text-anchor="start" >=</text>
<text x="1576.7" y="693.6" font-size="31.25" fill="#000" text-anchor="start" >4.64,</text>
<text x="0" y="0" font-size="32.5" font-style="italic" font-family="Liberation Serif, serif" transform="translate(1657.3 693.6) skewX(-13) scale(1.12 1.03)">ϕ</text>
<text x="0" y="0" font-size="24" font-style="italic" font-family="Liberation Serif, serif" transform="translate(1679 707.2) skewX(-10) scale(1.3 1)">τ</text>
<text x="1693" y="707.2" font-size="25.5" fill="#000" text-anchor="start" font-style="italic">,</text>
<text x="1704" y="707.2" font-size="25.5" fill="#000" text-anchor="start" font-style="italic">po</text>
<text x="1743.5" y="696.2" font-size="31.25" fill="#000" text-anchor="start" >=</text>
<text x="1769.8" y="693.6" font-size="31.25" fill="#000" text-anchor="start" >2.67</text>
<text x="0" y="0" font-size="32.5" font-style="italic" font-family="Liberation Serif, serif" transform="translate(1471.5 746.9) skewX(-13) scale(1.12 1.03)">ϕ</text>
<text x="0" y="0" font-size="26" font-style="italic" font-family="Liberation Serif, serif" transform="translate(1491.7 760.5) skewX(-10) scale(1.12 1)">γ</text>
<text x="1509.2" y="760.5" font-size="25.5" fill="#000" text-anchor="start" font-style="italic">,</text>
<text x="1523.1" y="760.5" font-size="25.5" fill="#000" text-anchor="start" font-style="italic">pr</text>
<text x="1553.8" y="749.5" font-size="31.25" fill="#000" text-anchor="start" >=</text>
<text x="1580.6" y="746.9" font-size="31.25" fill="#000" text-anchor="start" >0.26,</text>
<text x="0" y="0" font-size="32.5" font-style="italic" font-family="Liberation Serif, serif" transform="translate(1661.2 746.9) skewX(-13) scale(1.12 1.03)">ϕ</text>
<text x="0" y="0" font-size="26" font-style="italic" font-family="Liberation Serif, serif" transform="translate(1681.4 760.5) skewX(-10) scale(1.12 1)">γ</text>
<text x="1698.9" y="760.5" font-size="25.5" fill="#000" text-anchor="start" font-style="italic">,</text>
<text x="1712.7" y="760.5" font-size="25.5" fill="#000" text-anchor="start" font-style="italic">po</text>
<text x="1750.2" y="749.5" font-size="31.25" fill="#000" text-anchor="start" >=</text>
<text x="1778.5" y="746.9" font-size="31.25" fill="#000" text-anchor="start" >0.39</text>
</g>
</svg>
</body></html>
